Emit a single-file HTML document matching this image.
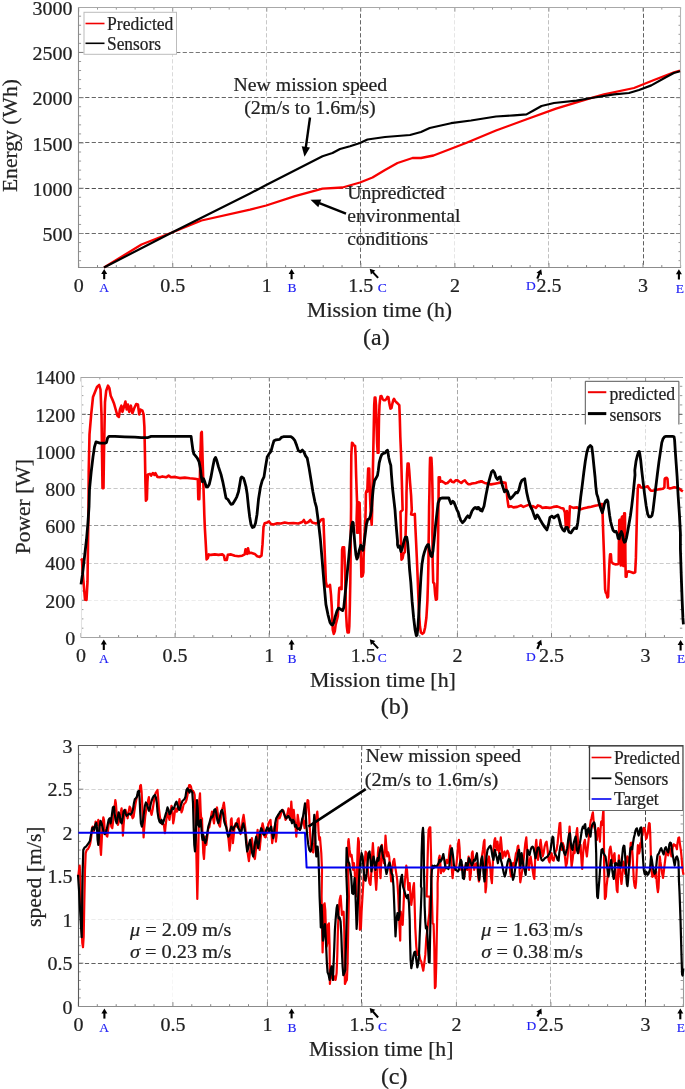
<!DOCTYPE html>
<html><head><meta charset="utf-8"><title>Energy, power and speed</title>
<style>
html,body{margin:0;padding:0;background:#fff;}
body{width:685px;height:1089px;overflow:hidden;}
svg{display:block;font-family:"Liberation Serif","DejaVu Serif",serif;}
text:not([stroke]){stroke:#222;stroke-width:0.22px;}
</style></head><body>
<svg width="685" height="1089" viewBox="0 0 685 1089">
<rect width="685" height="1089" fill="#fff"/>
<g id="chart-a">
<line x1="172.50" y1="7.20" x2="172.50" y2="267.50" stroke="#dadada" stroke-width="1" stroke-dasharray="4.2 2.3"/>
<line x1="266.50" y1="7.20" x2="266.50" y2="267.50" stroke="#c8c8c8" stroke-width="1" stroke-dasharray="4.2 2.3"/>
<line x1="360.50" y1="7.20" x2="360.50" y2="267.50" stroke="#686868" stroke-width="1" stroke-dasharray="4.2 2.3"/>
<line x1="454.50" y1="7.20" x2="454.50" y2="267.50" stroke="#e6e6e6" stroke-width="1" stroke-dasharray="4.2 2.3"/>
<line x1="548.50" y1="7.20" x2="548.50" y2="267.50" stroke="#c0c0c0" stroke-width="1" stroke-dasharray="4.2 2.3"/>
<line x1="643.50" y1="7.20" x2="643.50" y2="267.50" stroke="#606060" stroke-width="1" stroke-dasharray="4.2 2.3"/>
<line x1="78.70" y1="52.50" x2="680.90" y2="52.50" stroke="#787878" stroke-width="1" stroke-dasharray="4.2 2.3"/>
<line x1="78.70" y1="97.50" x2="680.90" y2="97.50" stroke="#646464" stroke-width="1" stroke-dasharray="4.2 2.3"/>
<line x1="78.70" y1="142.50" x2="680.90" y2="142.50" stroke="#686868" stroke-width="1" stroke-dasharray="4.2 2.3"/>
<line x1="78.70" y1="188.50" x2="680.90" y2="188.50" stroke="#505050" stroke-width="1" stroke-dasharray="4.2 2.3"/>
<line x1="78.70" y1="233.50" x2="680.90" y2="233.50" stroke="#686868" stroke-width="1" stroke-dasharray="4.2 2.3"/>
<line x1="78.70" y1="267.50" x2="78.70" y2="263.00" stroke="#858585" stroke-width="1"/>
<line x1="78.70" y1="7.20" x2="78.70" y2="11.70" stroke="#9a9a9a" stroke-width="1"/>
<line x1="97.51" y1="267.50" x2="97.51" y2="265.10" stroke="#858585" stroke-width="1"/>
<line x1="97.51" y1="7.20" x2="97.51" y2="9.60" stroke="#9a9a9a" stroke-width="1"/>
<line x1="116.32" y1="267.50" x2="116.32" y2="265.10" stroke="#858585" stroke-width="1"/>
<line x1="116.32" y1="7.20" x2="116.32" y2="9.60" stroke="#9a9a9a" stroke-width="1"/>
<line x1="135.13" y1="267.50" x2="135.13" y2="265.10" stroke="#858585" stroke-width="1"/>
<line x1="135.13" y1="7.20" x2="135.13" y2="9.60" stroke="#9a9a9a" stroke-width="1"/>
<line x1="153.94" y1="267.50" x2="153.94" y2="265.10" stroke="#858585" stroke-width="1"/>
<line x1="153.94" y1="7.20" x2="153.94" y2="9.60" stroke="#9a9a9a" stroke-width="1"/>
<line x1="172.75" y1="267.50" x2="172.75" y2="263.00" stroke="#858585" stroke-width="1"/>
<line x1="172.75" y1="7.20" x2="172.75" y2="11.70" stroke="#9a9a9a" stroke-width="1"/>
<line x1="191.56" y1="267.50" x2="191.56" y2="265.10" stroke="#858585" stroke-width="1"/>
<line x1="191.56" y1="7.20" x2="191.56" y2="9.60" stroke="#9a9a9a" stroke-width="1"/>
<line x1="210.37" y1="267.50" x2="210.37" y2="265.10" stroke="#858585" stroke-width="1"/>
<line x1="210.37" y1="7.20" x2="210.37" y2="9.60" stroke="#9a9a9a" stroke-width="1"/>
<line x1="229.18" y1="267.50" x2="229.18" y2="265.10" stroke="#858585" stroke-width="1"/>
<line x1="229.18" y1="7.20" x2="229.18" y2="9.60" stroke="#9a9a9a" stroke-width="1"/>
<line x1="247.99" y1="267.50" x2="247.99" y2="265.10" stroke="#858585" stroke-width="1"/>
<line x1="247.99" y1="7.20" x2="247.99" y2="9.60" stroke="#9a9a9a" stroke-width="1"/>
<line x1="266.80" y1="267.50" x2="266.80" y2="263.00" stroke="#858585" stroke-width="1"/>
<line x1="266.80" y1="7.20" x2="266.80" y2="11.70" stroke="#9a9a9a" stroke-width="1"/>
<line x1="285.61" y1="267.50" x2="285.61" y2="265.10" stroke="#858585" stroke-width="1"/>
<line x1="285.61" y1="7.20" x2="285.61" y2="9.60" stroke="#9a9a9a" stroke-width="1"/>
<line x1="304.42" y1="267.50" x2="304.42" y2="265.10" stroke="#858585" stroke-width="1"/>
<line x1="304.42" y1="7.20" x2="304.42" y2="9.60" stroke="#9a9a9a" stroke-width="1"/>
<line x1="323.23" y1="267.50" x2="323.23" y2="265.10" stroke="#858585" stroke-width="1"/>
<line x1="323.23" y1="7.20" x2="323.23" y2="9.60" stroke="#9a9a9a" stroke-width="1"/>
<line x1="342.04" y1="267.50" x2="342.04" y2="265.10" stroke="#858585" stroke-width="1"/>
<line x1="342.04" y1="7.20" x2="342.04" y2="9.60" stroke="#9a9a9a" stroke-width="1"/>
<line x1="360.85" y1="267.50" x2="360.85" y2="263.00" stroke="#858585" stroke-width="1"/>
<line x1="360.85" y1="7.20" x2="360.85" y2="11.70" stroke="#9a9a9a" stroke-width="1"/>
<line x1="379.66" y1="267.50" x2="379.66" y2="265.10" stroke="#858585" stroke-width="1"/>
<line x1="379.66" y1="7.20" x2="379.66" y2="9.60" stroke="#9a9a9a" stroke-width="1"/>
<line x1="398.47" y1="267.50" x2="398.47" y2="265.10" stroke="#858585" stroke-width="1"/>
<line x1="398.47" y1="7.20" x2="398.47" y2="9.60" stroke="#9a9a9a" stroke-width="1"/>
<line x1="417.28" y1="267.50" x2="417.28" y2="265.10" stroke="#858585" stroke-width="1"/>
<line x1="417.28" y1="7.20" x2="417.28" y2="9.60" stroke="#9a9a9a" stroke-width="1"/>
<line x1="436.09" y1="267.50" x2="436.09" y2="265.10" stroke="#858585" stroke-width="1"/>
<line x1="436.09" y1="7.20" x2="436.09" y2="9.60" stroke="#9a9a9a" stroke-width="1"/>
<line x1="454.90" y1="267.50" x2="454.90" y2="263.00" stroke="#858585" stroke-width="1"/>
<line x1="454.90" y1="7.20" x2="454.90" y2="11.70" stroke="#9a9a9a" stroke-width="1"/>
<line x1="473.71" y1="267.50" x2="473.71" y2="265.10" stroke="#858585" stroke-width="1"/>
<line x1="473.71" y1="7.20" x2="473.71" y2="9.60" stroke="#9a9a9a" stroke-width="1"/>
<line x1="492.52" y1="267.50" x2="492.52" y2="265.10" stroke="#858585" stroke-width="1"/>
<line x1="492.52" y1="7.20" x2="492.52" y2="9.60" stroke="#9a9a9a" stroke-width="1"/>
<line x1="511.33" y1="267.50" x2="511.33" y2="265.10" stroke="#858585" stroke-width="1"/>
<line x1="511.33" y1="7.20" x2="511.33" y2="9.60" stroke="#9a9a9a" stroke-width="1"/>
<line x1="530.14" y1="267.50" x2="530.14" y2="265.10" stroke="#858585" stroke-width="1"/>
<line x1="530.14" y1="7.20" x2="530.14" y2="9.60" stroke="#9a9a9a" stroke-width="1"/>
<line x1="548.95" y1="267.50" x2="548.95" y2="263.00" stroke="#858585" stroke-width="1"/>
<line x1="548.95" y1="7.20" x2="548.95" y2="11.70" stroke="#9a9a9a" stroke-width="1"/>
<line x1="567.76" y1="267.50" x2="567.76" y2="265.10" stroke="#858585" stroke-width="1"/>
<line x1="567.76" y1="7.20" x2="567.76" y2="9.60" stroke="#9a9a9a" stroke-width="1"/>
<line x1="586.57" y1="267.50" x2="586.57" y2="265.10" stroke="#858585" stroke-width="1"/>
<line x1="586.57" y1="7.20" x2="586.57" y2="9.60" stroke="#9a9a9a" stroke-width="1"/>
<line x1="605.38" y1="267.50" x2="605.38" y2="265.10" stroke="#858585" stroke-width="1"/>
<line x1="605.38" y1="7.20" x2="605.38" y2="9.60" stroke="#9a9a9a" stroke-width="1"/>
<line x1="624.19" y1="267.50" x2="624.19" y2="265.10" stroke="#858585" stroke-width="1"/>
<line x1="624.19" y1="7.20" x2="624.19" y2="9.60" stroke="#9a9a9a" stroke-width="1"/>
<line x1="643.00" y1="267.50" x2="643.00" y2="263.00" stroke="#858585" stroke-width="1"/>
<line x1="643.00" y1="7.20" x2="643.00" y2="11.70" stroke="#9a9a9a" stroke-width="1"/>
<line x1="661.81" y1="267.50" x2="661.81" y2="265.10" stroke="#858585" stroke-width="1"/>
<line x1="661.81" y1="7.20" x2="661.81" y2="9.60" stroke="#9a9a9a" stroke-width="1"/>
<line x1="680.62" y1="267.50" x2="680.62" y2="265.10" stroke="#858585" stroke-width="1"/>
<line x1="680.62" y1="7.20" x2="680.62" y2="9.60" stroke="#9a9a9a" stroke-width="1"/>
<line x1="78.70" y1="260.66" x2="81.10" y2="260.66" stroke="#999" stroke-width="1"/>
<line x1="680.90" y1="260.66" x2="678.50" y2="260.66" stroke="#999" stroke-width="1"/>
<line x1="78.70" y1="251.61" x2="81.10" y2="251.61" stroke="#999" stroke-width="1"/>
<line x1="680.90" y1="251.61" x2="678.50" y2="251.61" stroke="#999" stroke-width="1"/>
<line x1="78.70" y1="242.55" x2="81.10" y2="242.55" stroke="#999" stroke-width="1"/>
<line x1="680.90" y1="242.55" x2="678.50" y2="242.55" stroke="#999" stroke-width="1"/>
<line x1="78.70" y1="224.45" x2="81.10" y2="224.45" stroke="#999" stroke-width="1"/>
<line x1="680.90" y1="224.45" x2="678.50" y2="224.45" stroke="#999" stroke-width="1"/>
<line x1="78.70" y1="215.39" x2="81.10" y2="215.39" stroke="#999" stroke-width="1"/>
<line x1="680.90" y1="215.39" x2="678.50" y2="215.39" stroke="#999" stroke-width="1"/>
<line x1="78.70" y1="206.34" x2="81.10" y2="206.34" stroke="#999" stroke-width="1"/>
<line x1="680.90" y1="206.34" x2="678.50" y2="206.34" stroke="#999" stroke-width="1"/>
<line x1="78.70" y1="197.28" x2="81.10" y2="197.28" stroke="#999" stroke-width="1"/>
<line x1="680.90" y1="197.28" x2="678.50" y2="197.28" stroke="#999" stroke-width="1"/>
<line x1="78.70" y1="179.18" x2="81.10" y2="179.18" stroke="#999" stroke-width="1"/>
<line x1="680.90" y1="179.18" x2="678.50" y2="179.18" stroke="#999" stroke-width="1"/>
<line x1="78.70" y1="170.12" x2="81.10" y2="170.12" stroke="#999" stroke-width="1"/>
<line x1="680.90" y1="170.12" x2="678.50" y2="170.12" stroke="#999" stroke-width="1"/>
<line x1="78.70" y1="161.07" x2="81.10" y2="161.07" stroke="#999" stroke-width="1"/>
<line x1="680.90" y1="161.07" x2="678.50" y2="161.07" stroke="#999" stroke-width="1"/>
<line x1="78.70" y1="152.01" x2="81.10" y2="152.01" stroke="#999" stroke-width="1"/>
<line x1="680.90" y1="152.01" x2="678.50" y2="152.01" stroke="#999" stroke-width="1"/>
<line x1="78.70" y1="133.91" x2="81.10" y2="133.91" stroke="#999" stroke-width="1"/>
<line x1="680.90" y1="133.91" x2="678.50" y2="133.91" stroke="#999" stroke-width="1"/>
<line x1="78.70" y1="124.85" x2="81.10" y2="124.85" stroke="#999" stroke-width="1"/>
<line x1="680.90" y1="124.85" x2="678.50" y2="124.85" stroke="#999" stroke-width="1"/>
<line x1="78.70" y1="115.80" x2="81.10" y2="115.80" stroke="#999" stroke-width="1"/>
<line x1="680.90" y1="115.80" x2="678.50" y2="115.80" stroke="#999" stroke-width="1"/>
<line x1="78.70" y1="106.74" x2="81.10" y2="106.74" stroke="#999" stroke-width="1"/>
<line x1="680.90" y1="106.74" x2="678.50" y2="106.74" stroke="#999" stroke-width="1"/>
<line x1="78.70" y1="88.64" x2="81.10" y2="88.64" stroke="#999" stroke-width="1"/>
<line x1="680.90" y1="88.64" x2="678.50" y2="88.64" stroke="#999" stroke-width="1"/>
<line x1="78.70" y1="79.58" x2="81.10" y2="79.58" stroke="#999" stroke-width="1"/>
<line x1="680.90" y1="79.58" x2="678.50" y2="79.58" stroke="#999" stroke-width="1"/>
<line x1="78.70" y1="70.53" x2="81.10" y2="70.53" stroke="#999" stroke-width="1"/>
<line x1="680.90" y1="70.53" x2="678.50" y2="70.53" stroke="#999" stroke-width="1"/>
<line x1="78.70" y1="61.47" x2="81.10" y2="61.47" stroke="#999" stroke-width="1"/>
<line x1="680.90" y1="61.47" x2="678.50" y2="61.47" stroke="#999" stroke-width="1"/>
<line x1="78.70" y1="43.37" x2="81.10" y2="43.37" stroke="#999" stroke-width="1"/>
<line x1="680.90" y1="43.37" x2="678.50" y2="43.37" stroke="#999" stroke-width="1"/>
<line x1="78.70" y1="34.31" x2="81.10" y2="34.31" stroke="#999" stroke-width="1"/>
<line x1="680.90" y1="34.31" x2="678.50" y2="34.31" stroke="#999" stroke-width="1"/>
<line x1="78.70" y1="25.26" x2="81.10" y2="25.26" stroke="#999" stroke-width="1"/>
<line x1="680.90" y1="25.26" x2="678.50" y2="25.26" stroke="#999" stroke-width="1"/>
<line x1="78.70" y1="16.20" x2="81.10" y2="16.20" stroke="#999" stroke-width="1"/>
<line x1="680.90" y1="16.20" x2="678.50" y2="16.20" stroke="#999" stroke-width="1"/>
<line x1="78.70" y1="233.50" x2="83.70" y2="233.50" stroke="#858585" stroke-width="1"/>
<line x1="680.90" y1="233.50" x2="675.90" y2="233.50" stroke="#858585" stroke-width="1"/>
<line x1="78.70" y1="188.23" x2="83.70" y2="188.23" stroke="#858585" stroke-width="1"/>
<line x1="680.90" y1="188.23" x2="675.90" y2="188.23" stroke="#858585" stroke-width="1"/>
<line x1="78.70" y1="142.96" x2="83.70" y2="142.96" stroke="#858585" stroke-width="1"/>
<line x1="680.90" y1="142.96" x2="675.90" y2="142.96" stroke="#858585" stroke-width="1"/>
<line x1="78.70" y1="97.69" x2="83.70" y2="97.69" stroke="#858585" stroke-width="1"/>
<line x1="680.90" y1="97.69" x2="675.90" y2="97.69" stroke="#858585" stroke-width="1"/>
<line x1="78.70" y1="52.42" x2="83.70" y2="52.42" stroke="#858585" stroke-width="1"/>
<line x1="680.90" y1="52.42" x2="675.90" y2="52.42" stroke="#858585" stroke-width="1"/>
<line x1="78.50" y1="7.00" x2="78.50" y2="268.00" stroke="#8c8c8c" stroke-width="1.1"/>
<line x1="78.00" y1="7.50" x2="681.00" y2="7.50" stroke="#a8a8a8" stroke-width="1.1"/>
<line x1="680.50" y1="7.00" x2="680.50" y2="268.00" stroke="#b4b4b4" stroke-width="1.1"/>
<line x1="78.00" y1="267.50" x2="681.00" y2="267.50" stroke="#8c8c8c" stroke-width="1.2"/>
<polyline points="104.0,267.5 141.5,244.5 172.0,232.5 201.5,220.5 250.0,209.7 266.2,205.5 295.0,196.2 322.5,188.7 342.5,187.5 360.0,182.5 372.5,177.5 385.0,170.0 397.5,163.0 412.5,158.0 421.0,158.0 433.5,155.5 466.0,143.0 496.0,130.5 526.0,119.5 556.0,108.7 589.0,98.6 604.0,94.4 634.0,88.0 654.0,80.0 674.0,72.4 680.0,70.7" fill="none" stroke="#f80000" stroke-width="2.3" stroke-linejoin="round" stroke-linecap="butt" />
<polyline points="104.0,267.5 172.0,232.5 250.0,193.5 266.2,185.0 322.5,156.2 332.5,153.0 340.0,149.0 350.0,146.2 360.0,143.0 367.5,139.5 385.0,137.0 410.0,135.0 421.0,132.0 429.7,128.0 451.0,123.2 471.0,120.5 496.0,116.5 514.0,115.4 526.5,114.4 533.5,110.5 541.5,106.0 554.0,103.0 576.4,100.6 591.4,98.0 614.0,94.4 629.0,93.0 639.0,90.0 651.3,85.4 666.3,77.0 673.8,73.0 680.0,71.2" fill="none" stroke="#000" stroke-width="2.2" stroke-linejoin="round" stroke-linecap="butt" />
<rect x="84" y="12.3" width="92.5" height="42" fill="#fff" stroke="#bcbcbc" stroke-width="1"/>
<line x1="85.50" y1="23.50" x2="104.50" y2="23.50" stroke="#f00000" stroke-width="1.6"/>
<line x1="85.50" y1="43.30" x2="104.50" y2="43.30" stroke="#000" stroke-width="1.6"/>
<text x="107.0" y="30.0" font-size="18" text-anchor="start" fill="#222" textLength="66.4" lengthAdjust="spacingAndGlyphs" >Predicted</text>
<text x="107.0" y="50.0" font-size="18" text-anchor="start" fill="#222" textLength="54.0" lengthAdjust="spacingAndGlyphs" >Sensors</text>
<text x="72.5" y="241.1" font-size="19.5" text-anchor="end" fill="#222" textLength="30.0" lengthAdjust="spacingAndGlyphs" >500</text>
<text x="72.5" y="195.8" font-size="19.5" text-anchor="end" fill="#222" textLength="40.0" lengthAdjust="spacingAndGlyphs" >1000</text>
<text x="72.5" y="150.6" font-size="19.5" text-anchor="end" fill="#222" textLength="40.0" lengthAdjust="spacingAndGlyphs" >1500</text>
<text x="72.5" y="105.3" font-size="19.5" text-anchor="end" fill="#222" textLength="40.0" lengthAdjust="spacingAndGlyphs" >2000</text>
<text x="72.5" y="60.0" font-size="19.5" text-anchor="end" fill="#222" textLength="40.0" lengthAdjust="spacingAndGlyphs" >2500</text>
<text x="72.5" y="14.8" font-size="19.5" text-anchor="end" fill="#222" textLength="40.0" lengthAdjust="spacingAndGlyphs" >3000</text>
<text transform="translate(16.5,135.6) rotate(-90)" font-size="21.5" text-anchor="middle" fill="#222" textLength="113.0" lengthAdjust="spacingAndGlyphs">Energy (Wh)</text>
<text x="78.7" y="291.5" font-size="19.5" text-anchor="middle" fill="#222" textLength="10.0" lengthAdjust="spacingAndGlyphs" >0</text>
<text x="172.8" y="291.5" font-size="19.5" text-anchor="middle" fill="#222" textLength="25.0" lengthAdjust="spacingAndGlyphs" >0.5</text>
<text x="266.8" y="291.5" font-size="19.5" text-anchor="middle" fill="#222" textLength="10.0" lengthAdjust="spacingAndGlyphs" >1</text>
<text x="360.8" y="291.5" font-size="19.5" text-anchor="middle" fill="#222" textLength="25.0" lengthAdjust="spacingAndGlyphs" >1.5</text>
<text x="454.9" y="291.5" font-size="19.5" text-anchor="middle" fill="#222" textLength="10.0" lengthAdjust="spacingAndGlyphs" >2</text>
<text x="549.0" y="291.5" font-size="19.5" text-anchor="middle" fill="#222" textLength="25.0" lengthAdjust="spacingAndGlyphs" >2.5</text>
<text x="643.0" y="291.5" font-size="19.5" text-anchor="middle" fill="#222" textLength="10.0" lengthAdjust="spacingAndGlyphs" >3</text>
<text x="379.6" y="316.8" font-size="21.5" text-anchor="middle" fill="#222" textLength="145.0" lengthAdjust="spacingAndGlyphs" >Mission time (h)</text>
<text x="376.4" y="345.2" font-size="24" text-anchor="middle" fill="#222" >(a)</text>
<text x="310.4" y="90.5" font-size="19.5" text-anchor="middle" fill="#222" textLength="153.7" lengthAdjust="spacingAndGlyphs" >New mission speed</text>
<text x="310.0" y="114.0" font-size="19.5" text-anchor="middle" fill="#222" textLength="131.6" lengthAdjust="spacingAndGlyphs" >(2m/s to 1.6m/s)</text>
<line x1="310.00" y1="117.50" x2="305.82" y2="147.39" stroke="#000" stroke-width="2.4"/>
<polygon points="304.5,156.8 301.7,146.3 310.0,147.5" fill="#000"/>
<text x="347.2" y="199.0" font-size="19.5" text-anchor="start" fill="#222" textLength="97.3" lengthAdjust="spacingAndGlyphs" >Unpredicted</text>
<text x="347.2" y="222.2" font-size="19.5" text-anchor="start" fill="#222" textLength="113.2" lengthAdjust="spacingAndGlyphs" >environmental</text>
<text x="347.2" y="244.8" font-size="19.5" text-anchor="start" fill="#222" textLength="81.0" lengthAdjust="spacingAndGlyphs" >conditions</text>
<line x1="346.00" y1="213.60" x2="319.35" y2="203.24" stroke="#000" stroke-width="2.4"/>
<polygon points="310.5,199.8 321.3,199.5 318.3,207.3" fill="#000"/>
<text x="104.1" y="292.0" font-size="13.5" text-anchor="middle" fill="#2020f4" stroke="#2020f4" stroke-width="0.15">A</text>
<line x1="104.20" y1="279.20" x2="104.20" y2="273.50" stroke="#000" stroke-width="2.1"/>
<polygon points="104.2,269.0 107.2,274.0 101.2,274.0" fill="#000"/>
<text x="292.1" y="292.0" font-size="13.5" text-anchor="middle" fill="#2020f4" stroke="#2020f4" stroke-width="0.15">B</text>
<line x1="291.60" y1="279.20" x2="291.60" y2="273.50" stroke="#000" stroke-width="2.1"/>
<polygon points="291.6,269.0 294.6,274.0 288.6,274.0" fill="#000"/>
<text x="382.3" y="291.6" font-size="13.5" text-anchor="middle" fill="#2020f4" stroke="#2020f4" stroke-width="0.15">C</text>
<line x1="378.10" y1="277.90" x2="372.75" y2="272.11" stroke="#000" stroke-width="2.1"/>
<polygon points="369.7,268.8 375.3,270.4 370.9,274.5" fill="#000"/>
<text x="530.8" y="290.2" font-size="13.5" text-anchor="middle" fill="#2020f4" stroke="#2020f4" stroke-width="0.15">D</text>
<line x1="537.30" y1="278.60" x2="539.48" y2="273.36" stroke="#000" stroke-width="2.1"/>
<polygon points="541.2,269.2 542.1,275.0 536.5,272.7" fill="#000"/>
<text x="679.8" y="292.5" font-size="13.5" text-anchor="middle" fill="#2020f4" stroke="#2020f4" stroke-width="0.15">E</text>
<line x1="678.90" y1="279.50" x2="678.90" y2="273.70" stroke="#000" stroke-width="2.1"/>
<polygon points="678.9,269.2 681.9,274.2 675.9,274.2" fill="#000"/>
</g>
<g id="chart-b">
<line x1="175.50" y1="377.00" x2="175.50" y2="637.50" stroke="#c8c8c8" stroke-width="1" stroke-dasharray="4.2 2.3"/>
<line x1="269.50" y1="377.00" x2="269.50" y2="637.50" stroke="#707070" stroke-width="1" stroke-dasharray="4.2 2.3"/>
<line x1="363.50" y1="377.00" x2="363.50" y2="637.50" stroke="#cccccc" stroke-width="1" stroke-dasharray="4.2 2.3"/>
<line x1="457.50" y1="377.00" x2="457.50" y2="637.50" stroke="#a8a8a8" stroke-width="1" stroke-dasharray="4.2 2.3"/>
<line x1="551.50" y1="377.00" x2="551.50" y2="637.50" stroke="#dcdcdc" stroke-width="1" stroke-dasharray="4.2 2.3"/>
<line x1="645.50" y1="377.00" x2="645.50" y2="637.50" stroke="#dcdcdc" stroke-width="1" stroke-dasharray="4.2 2.3"/>
<line x1="81.00" y1="414.50" x2="682.30" y2="414.50" stroke="#505050" stroke-width="1" stroke-dasharray="4.2 2.3"/>
<line x1="81.00" y1="451.50" x2="682.30" y2="451.50" stroke="#505050" stroke-width="1" stroke-dasharray="4.2 2.3"/>
<line x1="81.00" y1="488.50" x2="682.30" y2="488.50" stroke="#c8c8c8" stroke-width="1" stroke-dasharray="4.2 2.3"/>
<line x1="81.00" y1="525.50" x2="682.30" y2="525.50" stroke="#989898" stroke-width="1" stroke-dasharray="4.2 2.3"/>
<line x1="81.00" y1="563.50" x2="682.30" y2="563.50" stroke="#cccccc" stroke-width="1" stroke-dasharray="4.2 2.3"/>
<line x1="81.00" y1="600.50" x2="682.30" y2="600.50" stroke="#ececec" stroke-width="1" stroke-dasharray="4.2 2.3"/>
<line x1="81.00" y1="637.50" x2="81.00" y2="633.00" stroke="#858585" stroke-width="1"/>
<line x1="81.00" y1="377.00" x2="81.00" y2="381.50" stroke="#9a9a9a" stroke-width="1"/>
<line x1="99.82" y1="637.50" x2="99.82" y2="635.10" stroke="#858585" stroke-width="1"/>
<line x1="99.82" y1="377.00" x2="99.82" y2="379.40" stroke="#9a9a9a" stroke-width="1"/>
<line x1="118.64" y1="637.50" x2="118.64" y2="635.10" stroke="#858585" stroke-width="1"/>
<line x1="118.64" y1="377.00" x2="118.64" y2="379.40" stroke="#9a9a9a" stroke-width="1"/>
<line x1="137.46" y1="637.50" x2="137.46" y2="635.10" stroke="#858585" stroke-width="1"/>
<line x1="137.46" y1="377.00" x2="137.46" y2="379.40" stroke="#9a9a9a" stroke-width="1"/>
<line x1="156.28" y1="637.50" x2="156.28" y2="635.10" stroke="#858585" stroke-width="1"/>
<line x1="156.28" y1="377.00" x2="156.28" y2="379.40" stroke="#9a9a9a" stroke-width="1"/>
<line x1="175.10" y1="637.50" x2="175.10" y2="633.00" stroke="#858585" stroke-width="1"/>
<line x1="175.10" y1="377.00" x2="175.10" y2="381.50" stroke="#9a9a9a" stroke-width="1"/>
<line x1="193.92" y1="637.50" x2="193.92" y2="635.10" stroke="#858585" stroke-width="1"/>
<line x1="193.92" y1="377.00" x2="193.92" y2="379.40" stroke="#9a9a9a" stroke-width="1"/>
<line x1="212.74" y1="637.50" x2="212.74" y2="635.10" stroke="#858585" stroke-width="1"/>
<line x1="212.74" y1="377.00" x2="212.74" y2="379.40" stroke="#9a9a9a" stroke-width="1"/>
<line x1="231.56" y1="637.50" x2="231.56" y2="635.10" stroke="#858585" stroke-width="1"/>
<line x1="231.56" y1="377.00" x2="231.56" y2="379.40" stroke="#9a9a9a" stroke-width="1"/>
<line x1="250.38" y1="637.50" x2="250.38" y2="635.10" stroke="#858585" stroke-width="1"/>
<line x1="250.38" y1="377.00" x2="250.38" y2="379.40" stroke="#9a9a9a" stroke-width="1"/>
<line x1="269.20" y1="637.50" x2="269.20" y2="633.00" stroke="#858585" stroke-width="1"/>
<line x1="269.20" y1="377.00" x2="269.20" y2="381.50" stroke="#9a9a9a" stroke-width="1"/>
<line x1="288.02" y1="637.50" x2="288.02" y2="635.10" stroke="#858585" stroke-width="1"/>
<line x1="288.02" y1="377.00" x2="288.02" y2="379.40" stroke="#9a9a9a" stroke-width="1"/>
<line x1="306.84" y1="637.50" x2="306.84" y2="635.10" stroke="#858585" stroke-width="1"/>
<line x1="306.84" y1="377.00" x2="306.84" y2="379.40" stroke="#9a9a9a" stroke-width="1"/>
<line x1="325.66" y1="637.50" x2="325.66" y2="635.10" stroke="#858585" stroke-width="1"/>
<line x1="325.66" y1="377.00" x2="325.66" y2="379.40" stroke="#9a9a9a" stroke-width="1"/>
<line x1="344.48" y1="637.50" x2="344.48" y2="635.10" stroke="#858585" stroke-width="1"/>
<line x1="344.48" y1="377.00" x2="344.48" y2="379.40" stroke="#9a9a9a" stroke-width="1"/>
<line x1="363.30" y1="637.50" x2="363.30" y2="633.00" stroke="#858585" stroke-width="1"/>
<line x1="363.30" y1="377.00" x2="363.30" y2="381.50" stroke="#9a9a9a" stroke-width="1"/>
<line x1="382.12" y1="637.50" x2="382.12" y2="635.10" stroke="#858585" stroke-width="1"/>
<line x1="382.12" y1="377.00" x2="382.12" y2="379.40" stroke="#9a9a9a" stroke-width="1"/>
<line x1="400.94" y1="637.50" x2="400.94" y2="635.10" stroke="#858585" stroke-width="1"/>
<line x1="400.94" y1="377.00" x2="400.94" y2="379.40" stroke="#9a9a9a" stroke-width="1"/>
<line x1="419.76" y1="637.50" x2="419.76" y2="635.10" stroke="#858585" stroke-width="1"/>
<line x1="419.76" y1="377.00" x2="419.76" y2="379.40" stroke="#9a9a9a" stroke-width="1"/>
<line x1="438.58" y1="637.50" x2="438.58" y2="635.10" stroke="#858585" stroke-width="1"/>
<line x1="438.58" y1="377.00" x2="438.58" y2="379.40" stroke="#9a9a9a" stroke-width="1"/>
<line x1="457.40" y1="637.50" x2="457.40" y2="633.00" stroke="#858585" stroke-width="1"/>
<line x1="457.40" y1="377.00" x2="457.40" y2="381.50" stroke="#9a9a9a" stroke-width="1"/>
<line x1="476.22" y1="637.50" x2="476.22" y2="635.10" stroke="#858585" stroke-width="1"/>
<line x1="476.22" y1="377.00" x2="476.22" y2="379.40" stroke="#9a9a9a" stroke-width="1"/>
<line x1="495.04" y1="637.50" x2="495.04" y2="635.10" stroke="#858585" stroke-width="1"/>
<line x1="495.04" y1="377.00" x2="495.04" y2="379.40" stroke="#9a9a9a" stroke-width="1"/>
<line x1="513.86" y1="637.50" x2="513.86" y2="635.10" stroke="#858585" stroke-width="1"/>
<line x1="513.86" y1="377.00" x2="513.86" y2="379.40" stroke="#9a9a9a" stroke-width="1"/>
<line x1="532.68" y1="637.50" x2="532.68" y2="635.10" stroke="#858585" stroke-width="1"/>
<line x1="532.68" y1="377.00" x2="532.68" y2="379.40" stroke="#9a9a9a" stroke-width="1"/>
<line x1="551.50" y1="637.50" x2="551.50" y2="633.00" stroke="#858585" stroke-width="1"/>
<line x1="551.50" y1="377.00" x2="551.50" y2="381.50" stroke="#9a9a9a" stroke-width="1"/>
<line x1="570.32" y1="637.50" x2="570.32" y2="635.10" stroke="#858585" stroke-width="1"/>
<line x1="570.32" y1="377.00" x2="570.32" y2="379.40" stroke="#9a9a9a" stroke-width="1"/>
<line x1="589.14" y1="637.50" x2="589.14" y2="635.10" stroke="#858585" stroke-width="1"/>
<line x1="589.14" y1="377.00" x2="589.14" y2="379.40" stroke="#9a9a9a" stroke-width="1"/>
<line x1="607.96" y1="637.50" x2="607.96" y2="635.10" stroke="#858585" stroke-width="1"/>
<line x1="607.96" y1="377.00" x2="607.96" y2="379.40" stroke="#9a9a9a" stroke-width="1"/>
<line x1="626.78" y1="637.50" x2="626.78" y2="635.10" stroke="#858585" stroke-width="1"/>
<line x1="626.78" y1="377.00" x2="626.78" y2="379.40" stroke="#9a9a9a" stroke-width="1"/>
<line x1="645.60" y1="637.50" x2="645.60" y2="633.00" stroke="#858585" stroke-width="1"/>
<line x1="645.60" y1="377.00" x2="645.60" y2="381.50" stroke="#9a9a9a" stroke-width="1"/>
<line x1="664.42" y1="637.50" x2="664.42" y2="635.10" stroke="#858585" stroke-width="1"/>
<line x1="664.42" y1="377.00" x2="664.42" y2="379.40" stroke="#9a9a9a" stroke-width="1"/>
<line x1="81.00" y1="628.20" x2="83.40" y2="628.20" stroke="#999" stroke-width="1"/>
<line x1="682.30" y1="628.20" x2="679.90" y2="628.20" stroke="#999" stroke-width="1"/>
<line x1="81.00" y1="618.89" x2="83.40" y2="618.89" stroke="#999" stroke-width="1"/>
<line x1="682.30" y1="618.89" x2="679.90" y2="618.89" stroke="#999" stroke-width="1"/>
<line x1="81.00" y1="609.59" x2="83.40" y2="609.59" stroke="#999" stroke-width="1"/>
<line x1="682.30" y1="609.59" x2="679.90" y2="609.59" stroke="#999" stroke-width="1"/>
<line x1="81.00" y1="590.98" x2="83.40" y2="590.98" stroke="#999" stroke-width="1"/>
<line x1="682.30" y1="590.98" x2="679.90" y2="590.98" stroke="#999" stroke-width="1"/>
<line x1="81.00" y1="581.68" x2="83.40" y2="581.68" stroke="#999" stroke-width="1"/>
<line x1="682.30" y1="581.68" x2="679.90" y2="581.68" stroke="#999" stroke-width="1"/>
<line x1="81.00" y1="572.38" x2="83.40" y2="572.38" stroke="#999" stroke-width="1"/>
<line x1="682.30" y1="572.38" x2="679.90" y2="572.38" stroke="#999" stroke-width="1"/>
<line x1="81.00" y1="553.77" x2="83.40" y2="553.77" stroke="#999" stroke-width="1"/>
<line x1="682.30" y1="553.77" x2="679.90" y2="553.77" stroke="#999" stroke-width="1"/>
<line x1="81.00" y1="544.46" x2="83.40" y2="544.46" stroke="#999" stroke-width="1"/>
<line x1="682.30" y1="544.46" x2="679.90" y2="544.46" stroke="#999" stroke-width="1"/>
<line x1="81.00" y1="535.16" x2="83.40" y2="535.16" stroke="#999" stroke-width="1"/>
<line x1="682.30" y1="535.16" x2="679.90" y2="535.16" stroke="#999" stroke-width="1"/>
<line x1="81.00" y1="516.55" x2="83.40" y2="516.55" stroke="#999" stroke-width="1"/>
<line x1="682.30" y1="516.55" x2="679.90" y2="516.55" stroke="#999" stroke-width="1"/>
<line x1="81.00" y1="507.25" x2="83.40" y2="507.25" stroke="#999" stroke-width="1"/>
<line x1="682.30" y1="507.25" x2="679.90" y2="507.25" stroke="#999" stroke-width="1"/>
<line x1="81.00" y1="497.95" x2="83.40" y2="497.95" stroke="#999" stroke-width="1"/>
<line x1="682.30" y1="497.95" x2="679.90" y2="497.95" stroke="#999" stroke-width="1"/>
<line x1="81.00" y1="479.34" x2="83.40" y2="479.34" stroke="#999" stroke-width="1"/>
<line x1="682.30" y1="479.34" x2="679.90" y2="479.34" stroke="#999" stroke-width="1"/>
<line x1="81.00" y1="470.04" x2="83.40" y2="470.04" stroke="#999" stroke-width="1"/>
<line x1="682.30" y1="470.04" x2="679.90" y2="470.04" stroke="#999" stroke-width="1"/>
<line x1="81.00" y1="460.73" x2="83.40" y2="460.73" stroke="#999" stroke-width="1"/>
<line x1="682.30" y1="460.73" x2="679.90" y2="460.73" stroke="#999" stroke-width="1"/>
<line x1="81.00" y1="442.12" x2="83.40" y2="442.12" stroke="#999" stroke-width="1"/>
<line x1="682.30" y1="442.12" x2="679.90" y2="442.12" stroke="#999" stroke-width="1"/>
<line x1="81.00" y1="432.82" x2="83.40" y2="432.82" stroke="#999" stroke-width="1"/>
<line x1="682.30" y1="432.82" x2="679.90" y2="432.82" stroke="#999" stroke-width="1"/>
<line x1="81.00" y1="423.52" x2="83.40" y2="423.52" stroke="#999" stroke-width="1"/>
<line x1="682.30" y1="423.52" x2="679.90" y2="423.52" stroke="#999" stroke-width="1"/>
<line x1="81.00" y1="404.91" x2="83.40" y2="404.91" stroke="#999" stroke-width="1"/>
<line x1="682.30" y1="404.91" x2="679.90" y2="404.91" stroke="#999" stroke-width="1"/>
<line x1="81.00" y1="395.61" x2="83.40" y2="395.61" stroke="#999" stroke-width="1"/>
<line x1="682.30" y1="395.61" x2="679.90" y2="395.61" stroke="#999" stroke-width="1"/>
<line x1="81.00" y1="386.30" x2="83.40" y2="386.30" stroke="#999" stroke-width="1"/>
<line x1="682.30" y1="386.30" x2="679.90" y2="386.30" stroke="#999" stroke-width="1"/>
<line x1="81.00" y1="600.29" x2="86.00" y2="600.29" stroke="#858585" stroke-width="1"/>
<line x1="682.30" y1="600.29" x2="677.30" y2="600.29" stroke="#858585" stroke-width="1"/>
<line x1="81.00" y1="563.07" x2="86.00" y2="563.07" stroke="#858585" stroke-width="1"/>
<line x1="682.30" y1="563.07" x2="677.30" y2="563.07" stroke="#858585" stroke-width="1"/>
<line x1="81.00" y1="525.86" x2="86.00" y2="525.86" stroke="#858585" stroke-width="1"/>
<line x1="682.30" y1="525.86" x2="677.30" y2="525.86" stroke="#858585" stroke-width="1"/>
<line x1="81.00" y1="488.64" x2="86.00" y2="488.64" stroke="#858585" stroke-width="1"/>
<line x1="682.30" y1="488.64" x2="677.30" y2="488.64" stroke="#858585" stroke-width="1"/>
<line x1="81.00" y1="451.43" x2="86.00" y2="451.43" stroke="#858585" stroke-width="1"/>
<line x1="682.30" y1="451.43" x2="677.30" y2="451.43" stroke="#858585" stroke-width="1"/>
<line x1="81.00" y1="414.21" x2="86.00" y2="414.21" stroke="#858585" stroke-width="1"/>
<line x1="682.30" y1="414.21" x2="677.30" y2="414.21" stroke="#858585" stroke-width="1"/>
<line x1="81.50" y1="377.00" x2="81.50" y2="638.00" stroke="#e2e2e2" stroke-width="1.1"/>
<line x1="81.00" y1="377.50" x2="683.00" y2="377.50" stroke="#a4a4a4" stroke-width="1.1"/>
<line x1="81.00" y1="637.50" x2="683.00" y2="637.50" stroke="#a4a4a4" stroke-width="1.2"/>
<polyline points="81.0,560.7 82.0,559.4 82.5,569.4 83.5,581.9 85.0,599.4 86.5,599.9 87.5,581.9 88.0,544.4 88.5,507.0 88.7,471.9 89.5,434.4 91.2,414.4 93.0,397.0 95.0,392.0 97.0,387.0 99.2,385.0 100.5,389.5 101.5,414.4 102.0,451.9 102.5,488.1 103.5,488.1 104.0,451.9 105.0,402.0 106.2,390.7 108.0,385.7 109.4,388.2 110.7,395.7 112.4,399.5 113.9,403.2 115.7,409.5 117.4,415.7 118.9,416.9 119.9,409.5 121.4,405.7 122.4,411.9 123.9,407.0 125.4,401.5 126.7,409.5 127.9,404.5 129.2,411.9 130.9,405.7 132.4,413.2 134.2,408.2 136.2,404.0 137.9,404.5 139.2,414.4 140.4,409.5 142.4,410.7 143.6,414.4 144.4,426.9 144.9,451.9 145.4,481.8 145.9,500.6 146.9,499.3 147.4,481.8 147.9,474.4 149.9,473.9 151.1,475.6 152.9,473.1 154.4,474.9 155.4,473.1 157.4,476.9 159.9,477.3 162.4,476.4 166.1,477.3 168.6,475.6 171.1,477.3 174.9,476.9 179.8,478.1 184.8,477.6 189.8,478.3 194.8,478.8 197.8,479.3 198.3,499.3 199.3,499.3 199.8,481.8 200.3,459.4 201.1,433.2 201.8,431.9 202.6,459.4 203.3,481.8 204.1,507.1 204.3,514.5 204.8,527.0 205.8,544.4 206.6,559.4 207.8,558.2 208.8,554.4 211.0,554.9 214.8,554.4 218.5,554.9 222.3,554.4 224.0,555.7 224.8,559.9 226.8,559.9 227.8,554.9 231.0,554.4 234.8,555.7 238.5,556.2 242.2,555.7 244.7,554.4 245.5,549.4 246.0,553.2 247.2,553.9 248.0,548.2 249.0,553.2 251.0,552.7 254.7,553.9 257.2,556.2 259.7,556.9 261.5,555.7 262.5,544.4 263.5,527.0 264.7,523.2 267.2,522.5 269.0,521.5 271.0,524.0 273.5,524.5 277.2,523.2 280.9,523.5 284.7,522.5 288.4,523.2 293.4,523.0 298.4,523.5 302.2,522.0 303.9,520.0 305.4,523.2 308.4,522.0 310.4,520.0 312.2,522.5 315.9,523.5 319.6,522.0 321.4,519.5 323.4,519.0 323.9,532.0 324.9,556.9 325.9,581.9 326.9,586.4 328.9,586.4 330.0,584.8 331.0,594.9 331.8,607.4 332.3,620.0 332.8,630.0 333.8,633.8 334.8,631.3 335.6,625.0 336.9,620.0 337.8,616.2 338.3,607.4 338.8,594.9 339.3,588.0 340.7,587.4 341.6,589.2 341.8,569.8 342.1,549.7 342.6,547.2 344.1,547.2 344.6,557.2 345.1,572.3 345.6,594.9 346.1,613.7 346.8,626.3 347.6,632.5 348.8,632.5 349.3,626.3 349.8,607.4 350.3,582.3 350.6,557.2 350.8,532.1 351.1,507.0 351.1,480.4 351.3,455.3 352.0,442.8 352.8,443.4 353.9,445.3 355.1,445.9 355.6,455.3 356.1,474.2 356.6,489.2 357.1,503.0 356.6,519.6 357.1,532.7 358.1,532.7 358.6,519.6 358.9,507.0 358.9,502.4 359.6,502.8 360.1,519.6 360.6,544.7 361.1,563.5 361.4,576.7 362.6,576.1 363.4,572.3 363.6,557.2 364.1,544.7 364.7,532.1 365.4,519.6 365.7,507.0 365.9,493.0 366.7,490.5 367.3,491.7 367.7,480.4 368.2,468.5 369.2,468.5 369.5,480.4 369.9,493.0 370.4,505.5 370.9,517.0 371.7,524.6 372.1,512.0 372.3,493.0 372.7,480.4 373.2,455.3 373.7,430.2 374.2,405.1 374.7,397.6 375.4,397.6 376.0,405.1 376.5,423.9 377.1,442.8 377.7,452.8 378.5,452.8 378.7,436.5 379.0,417.7 379.5,405.1 380.0,400.1 380.5,396.3 381.5,396.1 382.5,398.8 383.7,400.3 385.2,400.1 386.5,398.8 387.5,396.9 388.5,397.3 389.0,401.3 389.8,405.7 390.5,408.6 391.5,407.9 392.3,403.9 393.3,400.1 394.0,398.8 395.0,400.7 396.3,402.3 397.8,403.6 399.3,405.1 399.8,417.7 400.3,436.5 401.1,455.3 401.8,480.4 402.6,509.9 400.5,512.0 400.8,525.8 401.0,544.7 401.5,559.7 402.5,558.5 403.5,553.5 404.8,552.2 405.5,538.4 406.0,519.6 406.4,507.0 406.5,493.0 407.0,474.2 407.6,463.5 408.6,463.5 409.2,470.4 410.1,483.0 411.1,495.5 411.8,509.9 411.1,514.5 412.9,514.8 414.8,513.9 415.3,525.8 416.1,542.2 416.8,557.2 417.6,576.1 418.3,594.9 419.1,613.7 419.9,626.3 420.9,632.5 422.4,633.8 423.9,632.5 425.1,627.5 426.4,617.5 427.4,601.2 428.0,582.3 428.4,563.5 428.6,544.7 428.9,525.8 429.1,507.0 429.4,493.0 429.8,467.9 430.1,457.8 431.4,457.8 431.9,467.9 432.4,486.7 432.8,509.9 432.4,532.1 432.7,563.5 433.2,582.3 434.3,583.6 435.2,594.9 435.9,599.7 436.9,599.3 437.4,582.3 437.8,557.2 438.2,532.1 438.4,507.0 438.6,493.0 438.7,477.3 439.9,477.3 440.2,481.7 441.8,481.1 443.7,482.3 445.6,483.6 447.5,483.0 449.4,481.1 450.6,479.8 451.9,481.7 453.8,482.3 455.6,480.4 457.5,480.2 459.4,481.7 461.3,483.0 463.2,481.1 464.8,480.4 466.3,482.3 468.2,484.2 470.1,484.2 472.0,483.6 473.8,483.2 475.7,483.0 477.6,482.3 479.5,481.9 482.0,481.4 478.5,481.9 481.0,481.2 484.7,482.9 488.5,483.7 491.0,484.4 494.7,483.7 498.5,482.9 502.2,482.4 505.5,482.9 506.5,489.9 507.5,499.9 508.5,506.9 510.9,506.2 513.4,507.4 517.2,506.9 520.9,505.4 523.4,506.9 527.2,505.4 529.7,504.4 531.4,508.6 532.9,506.2 535.9,507.9 537.9,505.4 540.4,506.2 542.2,507.9 545.9,507.4 549.6,507.9 553.4,506.9 557.1,506.4 560.9,507.9 563.4,508.6 564.9,512.4 565.9,527.4 566.9,511.1 567.9,526.1 568.9,527.4 569.9,506.2 570.9,506.9 573.4,507.9 577.1,507.4 580.0,509.5 583.8,508.3 587.5,507.4 591.3,506.7 595.1,505.8 597.6,505.2 600.1,504.5 602.0,504.1 602.6,513.9 603.2,532.8 603.9,551.6 604.5,570.4 605.1,589.3 605.7,592.4 606.6,593.7 607.4,597.4 608.1,596.8 608.6,583.0 609.1,570.4 609.6,560.4 610.1,554.4 610.9,554.4 611.4,561.7 612.9,563.5 615.2,564.4 617.7,564.2 618.7,563.5 618.9,545.3 619.3,520.2 619.9,519.6 620.4,539.1 620.8,565.4 621.4,545.3 621.8,517.1 622.4,516.5 622.9,539.1 623.3,566.0 623.7,532.8 624.2,513.3 624.9,513.3 625.2,532.8 625.4,557.9 625.7,576.7 626.5,576.7 627.0,571.7 629.0,571.4 631.5,572.3 633.4,573.0 635.2,572.3 635.9,557.9 636.5,532.8 637.1,507.7 637.8,488.8 638.4,485.1 639.6,485.3 640.5,487.3 642.8,487.6 645.3,486.9 647.8,486.3 649.3,488.8 650.9,490.7 652.8,490.7 655.3,490.1 657.8,489.5 660.4,489.1 662.9,488.8 664.4,487.6 664.7,478.8 665.5,478.0 666.8,477.8 667.5,479.0 668.1,487.8 669.9,488.4 671.8,488.0 674.3,487.2 676.8,487.8 679.4,488.8 681.2,490.3 682.9,491.3" fill="none" stroke="#f80000" stroke-width="2.6" stroke-linejoin="round" stroke-linecap="butt" />
<polyline points="81.0,584.4 82.5,574.4 84.5,556.9 86.5,539.5 88.0,522.0 89.0,507.0 89.5,489.3 91.2,471.9 93.0,456.9 94.5,446.9 96.0,441.9 97.5,442.4 100.0,443.2 105.0,443.2 106.5,442.4 107.5,438.2 108.9,436.4 114.9,436.4 124.9,436.9 134.9,437.2 141.2,437.7 147.4,437.7 151.1,436.4 159.9,436.4 174.9,436.4 191.1,436.4 191.8,441.9 192.8,449.4 193.8,453.9 195.3,455.6 197.3,458.1 199.1,461.9 200.3,468.1 201.3,476.9 202.3,481.8 203.6,478.8 204.8,481.8 206.3,486.8 207.8,486.8 209.3,484.3 211.0,476.9 212.8,466.9 214.3,459.4 215.5,457.4 216.8,460.6 218.5,466.9 221.0,474.4 222.8,481.8 224.3,489.3 226.0,498.1 227.8,499.3 229.3,501.8 231.0,504.3 232.8,503.8 234.8,500.6 236.8,496.8 238.5,491.8 239.8,484.3 240.8,478.1 241.7,476.9 243.5,478.1 244.7,481.8 246.0,486.8 247.2,494.3 248.5,507.1 249.7,517.0 251.0,524.5 252.5,527.5 254.0,527.0 255.5,523.2 257.0,514.5 258.5,499.3 260.5,486.8 262.2,480.6 264.0,476.9 265.5,466.9 267.2,456.9 269.0,453.9 271.0,451.4 272.5,445.6 274.0,440.7 276.0,439.9 279.7,439.4 281.4,437.4 283.4,436.7 290.9,436.7 292.9,438.2 294.9,440.7 296.7,445.6 298.4,450.6 300.4,451.9 302.4,450.1 303.9,451.9 305.4,455.6 307.2,458.1 308.9,466.9 310.9,479.3 312.9,491.8 314.9,501.8 316.4,507.1 318.4,522.0 320.4,539.5 322.1,559.4 323.9,581.9 325.9,604.4 327.9,614.3 330.0,622.5 331.3,624.4 332.5,625.0 333.8,622.5 335.0,617.5 336.9,611.2 338.5,608.1 340.7,609.3 342.6,610.6 343.8,607.4 345.1,594.9 346.9,576.1 348.8,557.2 350.3,539.6 351.6,525.8 352.6,522.1 353.2,522.7 353.9,532.1 354.9,544.7 355.9,554.7 356.9,559.1 357.9,557.2 359.1,550.9 360.8,545.3 362.0,548.4 362.9,550.3 363.9,544.7 365.2,534.6 366.4,524.6 367.7,519.6 369.2,518.9 370.4,515.8 371.4,510.8 372.1,500.5 373.3,488.0 374.6,480.4 375.8,478.6 377.5,475.4 378.3,470.4 379.2,462.9 380.5,457.8 381.7,454.7 383.4,453.4 385.2,452.8 386.5,450.9 387.5,450.3 388.0,452.8 388.8,457.8 389.8,462.2 390.8,465.4 391.5,475.4 392.5,488.0 393.8,499.3 395.0,509.9 395.5,517.0 396.5,529.6 397.5,540.9 397.5,544.7 398.3,547.2 399.5,545.9 401.0,551.6 402.5,547.2 404.2,540.3 405.4,537.1 406.7,537.1 407.6,542.2 408.6,554.7 409.6,569.8 410.8,582.3 412.1,601.2 413.6,617.5 415.1,630.0 416.3,635.7 417.1,635.1 418.0,626.3 418.8,613.7 419.9,594.9 420.9,577.3 421.9,564.8 423.1,557.2 424.4,552.2 426.1,547.2 427.6,544.7 428.6,544.7 429.6,550.9 430.9,556.0 431.9,556.6 433.0,550.9 434.3,538.4 435.5,525.8 436.8,514.5 438.1,503.0 439.9,498.6 442.5,497.8 445.6,498.0 448.7,497.8 449.7,500.5 451.0,503.7 452.7,501.2 454.0,502.4 455.6,506.2 456.9,509.9 458.1,512.0 459.4,516.4 460.7,520.2 462.5,522.7 464.4,520.8 466.3,517.7 467.8,515.8 469.4,517.7 470.7,514.5 472.0,511.0 473.8,508.5 475.3,507.5 477.0,508.8 478.9,508.3 480.7,509.3 476.0,507.9 478.5,507.4 480.5,510.4 482.0,511.1 484.0,506.2 486.0,494.9 488.0,484.9 490.0,477.4 491.5,472.0 493.0,470.5 494.5,472.5 496.0,477.4 497.5,479.4 499.0,477.4 500.2,476.9 501.5,482.4 503.0,487.4 504.5,491.9 506.0,489.9 507.5,491.2 509.0,496.2 510.4,498.7 512.4,496.9 514.4,494.4 515.9,492.4 517.4,492.9 518.9,489.9 520.4,483.7 521.9,480.4 523.4,479.4 524.7,478.7 525.4,483.7 526.7,492.4 528.4,499.9 530.4,506.2 532.2,509.9 533.9,514.9 535.4,518.6 537.2,514.9 538.9,517.4 540.9,521.1 542.9,524.4 544.9,527.4 546.9,529.9 548.4,524.9 549.9,517.4 551.9,516.1 553.9,517.9 555.9,516.1 557.9,514.9 559.4,519.9 560.9,526.1 562.9,529.9 564.4,531.1 565.9,527.4 567.4,527.4 568.9,531.9 570.9,532.9 572.9,529.9 574.6,527.9 576.6,528.6 577.8,522.4 579.3,509.9 580.8,496.2 582.3,484.9 583.8,472.5 585.3,461.2 586.8,452.5 588.3,447.5 590.3,445.5 591.8,447.0 592.8,455.0 593.8,465.0 595.1,477.5 595.8,486.3 596.7,493.9 597.8,497.0 598.8,501.4 600.1,506.4 601.3,510.2 602.3,512.7 603.4,508.9 604.4,503.9 605.7,500.8 607.0,499.9 607.9,501.4 608.6,507.7 609.6,515.2 610.6,521.5 611.9,526.5 613.1,530.3 614.5,531.8 616.2,531.5 617.2,534.0 618.2,538.4 619.2,538.8 620.2,534.0 621.4,531.5 622.4,534.0 623.4,539.7 624.4,542.2 625.4,541.6 626.5,537.8 627.7,531.5 629.2,522.7 630.5,515.2 631.7,506.4 633.0,495.1 634.0,485.1 635.0,475.0 634.8,470.2 636.0,461.4 637.3,455.8 638.5,452.0 639.2,451.4 639.8,453.9 640.7,460.2 641.7,470.2 642.9,480.3 644.4,492.8 646.1,505.4 647.7,514.2 649.0,516.9 650.5,516.9 652.0,515.4 653.0,510.4 654.2,500.4 655.7,487.8 657.4,474.0 659.0,461.4 660.5,451.4 661.8,442.6 663.0,438.8 664.5,436.9 666.2,436.3 669.3,436.3 672.4,436.3 674.1,436.9 674.6,440.1 675.3,451.4 676.2,463.9 677.1,476.5 678.1,495.3 679.4,514.2 680.4,533.0 680.4,548.8 681.2,573.9 682.1,599.1 682.9,617.9 683.4,624.4" fill="none" stroke="#000" stroke-width="2.8" stroke-linejoin="round" stroke-linecap="butt" />
<rect x="585.3" y="381.3" width="93.6" height="43.5" fill="#fff" stroke="none"/>
<polyline points="585.3,424.5 585.3,381.3 678.9,381.3 678.9,424.5" fill="none" stroke="#555" stroke-width="1"/>
<line x1="587.90" y1="392.20" x2="606.30" y2="392.20" stroke="#f00000" stroke-width="2"/>
<line x1="587.90" y1="413.60" x2="606.30" y2="413.60" stroke="#000" stroke-width="3"/>
<text x="609.4" y="399.6" font-size="19" text-anchor="start" fill="#222" textLength="65.8" lengthAdjust="spacingAndGlyphs" >predicted</text>
<text x="609.4" y="420.6" font-size="19" text-anchor="start" fill="#222" textLength="52.1" lengthAdjust="spacingAndGlyphs" >sensors</text>
<text x="75.3" y="644.8" font-size="19.5" text-anchor="end" fill="#222" textLength="10.0" lengthAdjust="spacingAndGlyphs" >0</text>
<text x="75.3" y="607.6" font-size="19.5" text-anchor="end" fill="#222" textLength="30.0" lengthAdjust="spacingAndGlyphs" >200</text>
<text x="75.3" y="570.4" font-size="19.5" text-anchor="end" fill="#222" textLength="30.0" lengthAdjust="spacingAndGlyphs" >400</text>
<text x="75.3" y="533.2" font-size="19.5" text-anchor="end" fill="#222" textLength="30.0" lengthAdjust="spacingAndGlyphs" >600</text>
<text x="75.3" y="495.9" font-size="19.5" text-anchor="end" fill="#222" textLength="30.0" lengthAdjust="spacingAndGlyphs" >800</text>
<text x="75.3" y="458.7" font-size="19.5" text-anchor="end" fill="#222" textLength="40.0" lengthAdjust="spacingAndGlyphs" >1000</text>
<text x="75.3" y="421.5" font-size="19.5" text-anchor="end" fill="#222" textLength="40.0" lengthAdjust="spacingAndGlyphs" >1200</text>
<text x="75.3" y="384.3" font-size="19.5" text-anchor="end" fill="#222" textLength="40.0" lengthAdjust="spacingAndGlyphs" >1400</text>
<text transform="translate(29.5,506.7) rotate(-90)" font-size="21.5" text-anchor="middle" fill="#222" textLength="95.0" lengthAdjust="spacingAndGlyphs">Power [W]</text>
<text x="81.0" y="661.8" font-size="19.5" text-anchor="middle" fill="#222" textLength="10.0" lengthAdjust="spacingAndGlyphs" >0</text>
<text x="175.1" y="661.8" font-size="19.5" text-anchor="middle" fill="#222" textLength="25.0" lengthAdjust="spacingAndGlyphs" >0.5</text>
<text x="269.2" y="661.8" font-size="19.5" text-anchor="middle" fill="#222" textLength="10.0" lengthAdjust="spacingAndGlyphs" >1</text>
<text x="363.3" y="661.8" font-size="19.5" text-anchor="middle" fill="#222" textLength="25.0" lengthAdjust="spacingAndGlyphs" >1.5</text>
<text x="457.4" y="661.8" font-size="19.5" text-anchor="middle" fill="#222" textLength="10.0" lengthAdjust="spacingAndGlyphs" >2</text>
<text x="551.5" y="661.8" font-size="19.5" text-anchor="middle" fill="#222" textLength="25.0" lengthAdjust="spacingAndGlyphs" >2.5</text>
<text x="645.6" y="661.8" font-size="19.5" text-anchor="middle" fill="#222" textLength="10.0" lengthAdjust="spacingAndGlyphs" >3</text>
<text x="382.9" y="687.0" font-size="21.5" text-anchor="middle" fill="#222" textLength="146.0" lengthAdjust="spacingAndGlyphs" >Mission time [h]</text>
<text x="394.8" y="714.3" font-size="24" text-anchor="middle" fill="#222" >(b)</text>
<text x="103.8" y="662.5" font-size="13.5" text-anchor="middle" fill="#2020f4" stroke="#2020f4" stroke-width="0.15">A</text>
<line x1="103.80" y1="650.00" x2="103.80" y2="644.00" stroke="#000" stroke-width="2.1"/>
<polygon points="103.8,639.5 106.8,644.5 100.8,644.5" fill="#000"/>
<text x="292.1" y="662.5" font-size="13.5" text-anchor="middle" fill="#2020f4" stroke="#2020f4" stroke-width="0.15">B</text>
<line x1="291.60" y1="650.00" x2="291.60" y2="644.00" stroke="#000" stroke-width="2.1"/>
<polygon points="291.6,639.5 294.6,644.5 288.6,644.5" fill="#000"/>
<text x="382.3" y="662.1" font-size="13.5" text-anchor="middle" fill="#2020f4" stroke="#2020f4" stroke-width="0.15">C</text>
<line x1="378.10" y1="648.40" x2="372.75" y2="642.61" stroke="#000" stroke-width="2.1"/>
<polygon points="369.7,639.3 375.3,640.9 370.9,645.0" fill="#000"/>
<text x="530.8" y="660.7" font-size="13.5" text-anchor="middle" fill="#2020f4" stroke="#2020f4" stroke-width="0.15">D</text>
<line x1="537.30" y1="649.00" x2="539.46" y2="643.85" stroke="#000" stroke-width="2.1"/>
<polygon points="541.2,639.7 542.0,645.5 536.5,643.2" fill="#000"/>
<text x="681.0" y="663.0" font-size="13.5" text-anchor="middle" fill="#2020f4" stroke="#2020f4" stroke-width="0.15">E</text>
<line x1="680.60" y1="650.50" x2="680.60" y2="644.50" stroke="#000" stroke-width="2.1"/>
<polygon points="680.6,640.0 683.6,645.0 677.6,645.0" fill="#000"/>
</g>
<g id="chart-c">
<line x1="172.50" y1="745.70" x2="172.50" y2="1006.60" stroke="#f6f6f6" stroke-width="1" stroke-dasharray="4.2 2.3"/>
<line x1="267.50" y1="745.70" x2="267.50" y2="1006.60" stroke="#aaaaaa" stroke-width="1" stroke-dasharray="4.2 2.3"/>
<line x1="361.50" y1="745.70" x2="361.50" y2="1006.60" stroke="#606060" stroke-width="1" stroke-dasharray="4.2 2.3"/>
<line x1="456.50" y1="745.70" x2="456.50" y2="1006.60" stroke="#d4d4d4" stroke-width="1" stroke-dasharray="4.2 2.3"/>
<line x1="550.50" y1="745.70" x2="550.50" y2="1006.60" stroke="#b4b4b4" stroke-width="1" stroke-dasharray="4.2 2.3"/>
<line x1="645.50" y1="745.70" x2="645.50" y2="1006.60" stroke="#444" stroke-width="1" stroke-dasharray="4.2 2.3"/>
<line x1="78.40" y1="789.50" x2="683.00" y2="789.50" stroke="#d4d4d4" stroke-width="1" stroke-dasharray="4.2 2.3"/>
<line x1="78.40" y1="832.50" x2="683.00" y2="832.50" stroke="#a0a0a0" stroke-width="1" stroke-dasharray="4.2 2.3"/>
<line x1="78.40" y1="876.50" x2="683.00" y2="876.50" stroke="#6a6a6a" stroke-width="1" stroke-dasharray="4.2 2.3"/>
<line x1="78.40" y1="919.50" x2="683.00" y2="919.50" stroke="#ececec" stroke-width="1" stroke-dasharray="4.2 2.3"/>
<line x1="78.40" y1="963.50" x2="683.00" y2="963.50" stroke="#606060" stroke-width="1" stroke-dasharray="4.2 2.3"/>
<line x1="78.40" y1="1006.60" x2="78.40" y2="1002.10" stroke="#858585" stroke-width="1"/>
<line x1="78.40" y1="745.70" x2="78.40" y2="750.20" stroke="#9a9a9a" stroke-width="1"/>
<line x1="97.30" y1="1006.60" x2="97.30" y2="1004.20" stroke="#858585" stroke-width="1"/>
<line x1="97.30" y1="745.70" x2="97.30" y2="748.10" stroke="#9a9a9a" stroke-width="1"/>
<line x1="116.20" y1="1006.60" x2="116.20" y2="1004.20" stroke="#858585" stroke-width="1"/>
<line x1="116.20" y1="745.70" x2="116.20" y2="748.10" stroke="#9a9a9a" stroke-width="1"/>
<line x1="135.10" y1="1006.60" x2="135.10" y2="1004.20" stroke="#858585" stroke-width="1"/>
<line x1="135.10" y1="745.70" x2="135.10" y2="748.10" stroke="#9a9a9a" stroke-width="1"/>
<line x1="154.00" y1="1006.60" x2="154.00" y2="1004.20" stroke="#858585" stroke-width="1"/>
<line x1="154.00" y1="745.70" x2="154.00" y2="748.10" stroke="#9a9a9a" stroke-width="1"/>
<line x1="172.90" y1="1006.60" x2="172.90" y2="1002.10" stroke="#858585" stroke-width="1"/>
<line x1="172.90" y1="745.70" x2="172.90" y2="750.20" stroke="#9a9a9a" stroke-width="1"/>
<line x1="191.80" y1="1006.60" x2="191.80" y2="1004.20" stroke="#858585" stroke-width="1"/>
<line x1="191.80" y1="745.70" x2="191.80" y2="748.10" stroke="#9a9a9a" stroke-width="1"/>
<line x1="210.70" y1="1006.60" x2="210.70" y2="1004.20" stroke="#858585" stroke-width="1"/>
<line x1="210.70" y1="745.70" x2="210.70" y2="748.10" stroke="#9a9a9a" stroke-width="1"/>
<line x1="229.60" y1="1006.60" x2="229.60" y2="1004.20" stroke="#858585" stroke-width="1"/>
<line x1="229.60" y1="745.70" x2="229.60" y2="748.10" stroke="#9a9a9a" stroke-width="1"/>
<line x1="248.50" y1="1006.60" x2="248.50" y2="1004.20" stroke="#858585" stroke-width="1"/>
<line x1="248.50" y1="745.70" x2="248.50" y2="748.10" stroke="#9a9a9a" stroke-width="1"/>
<line x1="267.40" y1="1006.60" x2="267.40" y2="1002.10" stroke="#858585" stroke-width="1"/>
<line x1="267.40" y1="745.70" x2="267.40" y2="750.20" stroke="#9a9a9a" stroke-width="1"/>
<line x1="286.30" y1="1006.60" x2="286.30" y2="1004.20" stroke="#858585" stroke-width="1"/>
<line x1="286.30" y1="745.70" x2="286.30" y2="748.10" stroke="#9a9a9a" stroke-width="1"/>
<line x1="305.20" y1="1006.60" x2="305.20" y2="1004.20" stroke="#858585" stroke-width="1"/>
<line x1="305.20" y1="745.70" x2="305.20" y2="748.10" stroke="#9a9a9a" stroke-width="1"/>
<line x1="324.10" y1="1006.60" x2="324.10" y2="1004.20" stroke="#858585" stroke-width="1"/>
<line x1="324.10" y1="745.70" x2="324.10" y2="748.10" stroke="#9a9a9a" stroke-width="1"/>
<line x1="343.00" y1="1006.60" x2="343.00" y2="1004.20" stroke="#858585" stroke-width="1"/>
<line x1="343.00" y1="745.70" x2="343.00" y2="748.10" stroke="#9a9a9a" stroke-width="1"/>
<line x1="361.90" y1="1006.60" x2="361.90" y2="1002.10" stroke="#858585" stroke-width="1"/>
<line x1="361.90" y1="745.70" x2="361.90" y2="750.20" stroke="#9a9a9a" stroke-width="1"/>
<line x1="380.80" y1="1006.60" x2="380.80" y2="1004.20" stroke="#858585" stroke-width="1"/>
<line x1="380.80" y1="745.70" x2="380.80" y2="748.10" stroke="#9a9a9a" stroke-width="1"/>
<line x1="399.70" y1="1006.60" x2="399.70" y2="1004.20" stroke="#858585" stroke-width="1"/>
<line x1="399.70" y1="745.70" x2="399.70" y2="748.10" stroke="#9a9a9a" stroke-width="1"/>
<line x1="418.60" y1="1006.60" x2="418.60" y2="1004.20" stroke="#858585" stroke-width="1"/>
<line x1="418.60" y1="745.70" x2="418.60" y2="748.10" stroke="#9a9a9a" stroke-width="1"/>
<line x1="437.50" y1="1006.60" x2="437.50" y2="1004.20" stroke="#858585" stroke-width="1"/>
<line x1="437.50" y1="745.70" x2="437.50" y2="748.10" stroke="#9a9a9a" stroke-width="1"/>
<line x1="456.40" y1="1006.60" x2="456.40" y2="1002.10" stroke="#858585" stroke-width="1"/>
<line x1="456.40" y1="745.70" x2="456.40" y2="750.20" stroke="#9a9a9a" stroke-width="1"/>
<line x1="475.30" y1="1006.60" x2="475.30" y2="1004.20" stroke="#858585" stroke-width="1"/>
<line x1="475.30" y1="745.70" x2="475.30" y2="748.10" stroke="#9a9a9a" stroke-width="1"/>
<line x1="494.20" y1="1006.60" x2="494.20" y2="1004.20" stroke="#858585" stroke-width="1"/>
<line x1="494.20" y1="745.70" x2="494.20" y2="748.10" stroke="#9a9a9a" stroke-width="1"/>
<line x1="513.10" y1="1006.60" x2="513.10" y2="1004.20" stroke="#858585" stroke-width="1"/>
<line x1="513.10" y1="745.70" x2="513.10" y2="748.10" stroke="#9a9a9a" stroke-width="1"/>
<line x1="532.00" y1="1006.60" x2="532.00" y2="1004.20" stroke="#858585" stroke-width="1"/>
<line x1="532.00" y1="745.70" x2="532.00" y2="748.10" stroke="#9a9a9a" stroke-width="1"/>
<line x1="550.90" y1="1006.60" x2="550.90" y2="1002.10" stroke="#858585" stroke-width="1"/>
<line x1="550.90" y1="745.70" x2="550.90" y2="750.20" stroke="#9a9a9a" stroke-width="1"/>
<line x1="569.80" y1="1006.60" x2="569.80" y2="1004.20" stroke="#858585" stroke-width="1"/>
<line x1="569.80" y1="745.70" x2="569.80" y2="748.10" stroke="#9a9a9a" stroke-width="1"/>
<line x1="588.70" y1="1006.60" x2="588.70" y2="1004.20" stroke="#858585" stroke-width="1"/>
<line x1="588.70" y1="745.70" x2="588.70" y2="748.10" stroke="#9a9a9a" stroke-width="1"/>
<line x1="607.60" y1="1006.60" x2="607.60" y2="1004.20" stroke="#858585" stroke-width="1"/>
<line x1="607.60" y1="745.70" x2="607.60" y2="748.10" stroke="#9a9a9a" stroke-width="1"/>
<line x1="626.50" y1="1006.60" x2="626.50" y2="1004.20" stroke="#858585" stroke-width="1"/>
<line x1="626.50" y1="745.70" x2="626.50" y2="748.10" stroke="#9a9a9a" stroke-width="1"/>
<line x1="645.40" y1="1006.60" x2="645.40" y2="1002.10" stroke="#858585" stroke-width="1"/>
<line x1="645.40" y1="745.70" x2="645.40" y2="750.20" stroke="#9a9a9a" stroke-width="1"/>
<line x1="664.30" y1="1006.60" x2="664.30" y2="1004.20" stroke="#858585" stroke-width="1"/>
<line x1="664.30" y1="745.70" x2="664.30" y2="748.10" stroke="#9a9a9a" stroke-width="1"/>
<line x1="683.20" y1="1006.60" x2="683.20" y2="1004.20" stroke="#858585" stroke-width="1"/>
<line x1="683.20" y1="745.70" x2="683.20" y2="748.10" stroke="#9a9a9a" stroke-width="1"/>
<line x1="78.40" y1="997.90" x2="80.80" y2="997.90" stroke="#999" stroke-width="1"/>
<line x1="683.00" y1="997.90" x2="680.60" y2="997.90" stroke="#999" stroke-width="1"/>
<line x1="78.40" y1="989.21" x2="80.80" y2="989.21" stroke="#999" stroke-width="1"/>
<line x1="683.00" y1="989.21" x2="680.60" y2="989.21" stroke="#999" stroke-width="1"/>
<line x1="78.40" y1="980.51" x2="80.80" y2="980.51" stroke="#999" stroke-width="1"/>
<line x1="683.00" y1="980.51" x2="680.60" y2="980.51" stroke="#999" stroke-width="1"/>
<line x1="78.40" y1="971.81" x2="80.80" y2="971.81" stroke="#999" stroke-width="1"/>
<line x1="683.00" y1="971.81" x2="680.60" y2="971.81" stroke="#999" stroke-width="1"/>
<line x1="78.40" y1="954.42" x2="80.80" y2="954.42" stroke="#999" stroke-width="1"/>
<line x1="683.00" y1="954.42" x2="680.60" y2="954.42" stroke="#999" stroke-width="1"/>
<line x1="78.40" y1="945.72" x2="80.80" y2="945.72" stroke="#999" stroke-width="1"/>
<line x1="683.00" y1="945.72" x2="680.60" y2="945.72" stroke="#999" stroke-width="1"/>
<line x1="78.40" y1="937.03" x2="80.80" y2="937.03" stroke="#999" stroke-width="1"/>
<line x1="683.00" y1="937.03" x2="680.60" y2="937.03" stroke="#999" stroke-width="1"/>
<line x1="78.40" y1="928.33" x2="80.80" y2="928.33" stroke="#999" stroke-width="1"/>
<line x1="683.00" y1="928.33" x2="680.60" y2="928.33" stroke="#999" stroke-width="1"/>
<line x1="78.40" y1="910.94" x2="80.80" y2="910.94" stroke="#999" stroke-width="1"/>
<line x1="683.00" y1="910.94" x2="680.60" y2="910.94" stroke="#999" stroke-width="1"/>
<line x1="78.40" y1="902.24" x2="80.80" y2="902.24" stroke="#999" stroke-width="1"/>
<line x1="683.00" y1="902.24" x2="680.60" y2="902.24" stroke="#999" stroke-width="1"/>
<line x1="78.40" y1="893.54" x2="80.80" y2="893.54" stroke="#999" stroke-width="1"/>
<line x1="683.00" y1="893.54" x2="680.60" y2="893.54" stroke="#999" stroke-width="1"/>
<line x1="78.40" y1="884.85" x2="80.80" y2="884.85" stroke="#999" stroke-width="1"/>
<line x1="683.00" y1="884.85" x2="680.60" y2="884.85" stroke="#999" stroke-width="1"/>
<line x1="78.40" y1="867.45" x2="80.80" y2="867.45" stroke="#999" stroke-width="1"/>
<line x1="683.00" y1="867.45" x2="680.60" y2="867.45" stroke="#999" stroke-width="1"/>
<line x1="78.40" y1="858.76" x2="80.80" y2="858.76" stroke="#999" stroke-width="1"/>
<line x1="683.00" y1="858.76" x2="680.60" y2="858.76" stroke="#999" stroke-width="1"/>
<line x1="78.40" y1="850.06" x2="80.80" y2="850.06" stroke="#999" stroke-width="1"/>
<line x1="683.00" y1="850.06" x2="680.60" y2="850.06" stroke="#999" stroke-width="1"/>
<line x1="78.40" y1="841.36" x2="80.80" y2="841.36" stroke="#999" stroke-width="1"/>
<line x1="683.00" y1="841.36" x2="680.60" y2="841.36" stroke="#999" stroke-width="1"/>
<line x1="78.40" y1="823.97" x2="80.80" y2="823.97" stroke="#999" stroke-width="1"/>
<line x1="683.00" y1="823.97" x2="680.60" y2="823.97" stroke="#999" stroke-width="1"/>
<line x1="78.40" y1="815.27" x2="80.80" y2="815.27" stroke="#999" stroke-width="1"/>
<line x1="683.00" y1="815.27" x2="680.60" y2="815.27" stroke="#999" stroke-width="1"/>
<line x1="78.40" y1="806.58" x2="80.80" y2="806.58" stroke="#999" stroke-width="1"/>
<line x1="683.00" y1="806.58" x2="680.60" y2="806.58" stroke="#999" stroke-width="1"/>
<line x1="78.40" y1="797.88" x2="80.80" y2="797.88" stroke="#999" stroke-width="1"/>
<line x1="683.00" y1="797.88" x2="680.60" y2="797.88" stroke="#999" stroke-width="1"/>
<line x1="78.40" y1="780.49" x2="80.80" y2="780.49" stroke="#999" stroke-width="1"/>
<line x1="683.00" y1="780.49" x2="680.60" y2="780.49" stroke="#999" stroke-width="1"/>
<line x1="78.40" y1="771.79" x2="80.80" y2="771.79" stroke="#999" stroke-width="1"/>
<line x1="683.00" y1="771.79" x2="680.60" y2="771.79" stroke="#999" stroke-width="1"/>
<line x1="78.40" y1="763.09" x2="80.80" y2="763.09" stroke="#999" stroke-width="1"/>
<line x1="683.00" y1="763.09" x2="680.60" y2="763.09" stroke="#999" stroke-width="1"/>
<line x1="78.40" y1="754.40" x2="80.80" y2="754.40" stroke="#999" stroke-width="1"/>
<line x1="683.00" y1="754.40" x2="680.60" y2="754.40" stroke="#999" stroke-width="1"/>
<line x1="78.40" y1="963.12" x2="83.40" y2="963.12" stroke="#858585" stroke-width="1"/>
<line x1="683.00" y1="963.12" x2="678.00" y2="963.12" stroke="#858585" stroke-width="1"/>
<line x1="78.40" y1="919.63" x2="83.40" y2="919.63" stroke="#858585" stroke-width="1"/>
<line x1="683.00" y1="919.63" x2="678.00" y2="919.63" stroke="#858585" stroke-width="1"/>
<line x1="78.40" y1="876.15" x2="83.40" y2="876.15" stroke="#858585" stroke-width="1"/>
<line x1="683.00" y1="876.15" x2="678.00" y2="876.15" stroke="#858585" stroke-width="1"/>
<line x1="78.40" y1="832.67" x2="83.40" y2="832.67" stroke="#858585" stroke-width="1"/>
<line x1="683.00" y1="832.67" x2="678.00" y2="832.67" stroke="#858585" stroke-width="1"/>
<line x1="78.40" y1="789.18" x2="83.40" y2="789.18" stroke="#858585" stroke-width="1"/>
<line x1="683.00" y1="789.18" x2="678.00" y2="789.18" stroke="#858585" stroke-width="1"/>
<line x1="78.50" y1="745.00" x2="78.50" y2="1007.00" stroke="#5a5a5a" stroke-width="1.1"/>
<line x1="78.00" y1="745.50" x2="684.00" y2="745.50" stroke="#5a5a5a" stroke-width="1.1"/>
<line x1="683.50" y1="745.00" x2="683.50" y2="1007.00" stroke="#9a9a9a" stroke-width="1.1"/>
<line x1="78.00" y1="1006.50" x2="684.00" y2="1006.50" stroke="#8c8c8c" stroke-width="1.2"/>
<polyline points="78.3,876.5 79.0,869.9 79.7,865.7 80.3,878.2 81.0,903.1 81.7,928.1 82.3,943.1 83.0,947.2 83.7,936.4 84.3,903.1 85.0,869.9 85.7,853.2 86.7,849.9 88.0,849.0 89.3,846.6 90.3,843.2 91.3,836.6 92.0,828.2 92.6,826.6 93.6,831.6 94.6,828.2 95.6,821.6 96.6,823.3 97.3,824.9 98.3,819.9 99.0,821.6 99.6,833.2 100.3,846.6 101.0,854.9 101.6,843.2 102.3,828.2 103.3,817.4 104.0,819.9 104.6,828.2 105.6,833.2 106.6,835.7 107.3,836.6 108.3,828.2 109.3,819.9 110.3,818.3 111.3,826.6 112.3,828.2 113.3,819.9 114.3,809.9 115.3,800.0 115.9,803.3 116.9,816.6 117.9,824.9 118.9,821.6 119.9,814.9 120.9,811.6 121.6,808.3 122.3,816.6 122.9,835.7 123.6,824.9 124.6,813.3 125.6,809.9 126.6,814.1 127.6,818.3 128.6,811.6 129.6,806.6 130.6,808.3 131.6,814.9 132.6,818.3 133.6,816.6 134.6,809.9 135.6,803.3 136.6,798.3 137.6,795.0 138.6,793.3 139.6,791.6 140.2,785.8 140.9,785.0 141.6,791.6 142.2,803.3 142.9,819.9 143.6,837.4 144.2,828.2 145.2,816.6 146.2,809.9 147.2,806.6 148.2,800.0 148.9,797.0 149.6,803.3 150.6,811.6 151.6,814.9 152.6,809.9 153.6,803.3 154.5,797.5 155.5,793.3 156.5,791.6 157.5,790.0 158.2,798.3 158.9,808.3 159.9,816.6 160.9,821.6 161.9,824.1 162.9,823.3 163.9,824.9 164.9,833.2 165.5,826.6 166.5,818.3 167.5,813.3 168.5,816.6 169.5,819.9 170.5,811.6 171.5,805.8 172.5,813.3 173.2,823.3 173.9,819.9 174.9,811.6 175.9,808.3 176.8,811.6 177.8,809.9 178.8,803.3 179.5,799.1 180.5,806.6 181.5,812.4 182.5,809.9 183.5,804.9 184.5,803.3 185.5,802.5 186.5,800.0 187.5,795.0 188.5,788.3 189.2,785.0 189.8,786.6 190.0,785.0 191.0,786.6 192.0,791.6 193.0,790.8 194.0,792.5 194.7,795.0 195.3,811.6 196.0,836.6 196.7,869.9 197.3,899.0 198.0,869.9 198.7,828.2 199.3,800.0 200.0,793.3 200.7,811.6 201.3,819.9 202.0,818.3 202.6,836.6 203.3,853.2 204.0,859.0 204.6,848.2 205.3,836.6 206.3,844.9 207.3,836.6 208.3,828.2 209.3,827.4 210.3,821.6 211.3,814.9 212.0,811.6 213.0,818.3 214.0,823.3 215.0,814.9 216.0,809.9 217.0,807.4 218.0,814.9 219.0,824.9 220.0,826.6 221.0,816.6 222.0,809.9 223.0,806.6 223.9,802.5 224.6,808.3 225.6,819.9 226.6,828.2 227.6,831.6 228.6,839.9 229.6,850.7 230.3,844.9 230.9,819.9 231.6,818.3 232.3,831.6 232.9,843.2 233.6,836.6 234.6,826.6 235.6,823.3 236.6,826.6 237.6,819.9 238.6,818.3 239.6,826.6 240.6,834.1 241.6,829.9 242.6,819.9 243.6,814.9 244.3,819.9 245.3,828.2 246.2,836.6 247.2,849.9 248.2,856.5 248.9,861.2 249.9,853.2 250.9,844.9 251.9,838.2 252.9,846.6 253.9,856.5 254.9,859.0 255.9,849.9 256.9,836.6 257.6,829.9 258.6,839.9 259.6,849.9 260.6,839.9 261.6,828.2 262.6,823.3 263.6,828.2 264.6,836.6 265.6,837.4 266.6,833.2 267.6,828.2 268.5,823.3 269.5,821.6 270.5,819.9 271.5,833.2 272.2,843.2 273.2,836.6 274.2,828.2 275.2,824.9 275.9,841.6 276.5,836.6 277.5,819.9 278.5,814.9 279.5,818.3 280.5,815.8 281.5,811.6 282.5,809.9 283.5,810.8 284.5,814.9 285.5,819.9 286.5,818.3 287.5,813.3 288.5,808.3 289.5,811.6 290.2,819.9 290.7,813.3 291.3,801.6 292.0,811.6 292.7,818.3 293.7,809.9 294.7,819.9 295.7,828.2 296.3,836.6 297.0,826.6 297.7,814.9 298.7,821.6 299.7,829.9 300.7,828.2 301.6,823.3 302.6,818.3 303.6,821.6 304.6,828.2 305.6,819.9 306.6,806.6 307.6,800.0 308.3,800.8 309.0,811.6 309.6,824.9 310.3,836.6 311.3,848.2 312.3,851.5 313.3,852.4 314.3,843.2 315.3,828.2 316.3,816.6 317.3,811.6 318.0,819.9 318.6,833.2 319.3,839.9 320.0,837.4 320.6,844.9 321.3,853.2 322.0,869.9 321.6,896.6 322.1,929.9 322.6,952.4 323.3,929.9 323.9,905.0 324.6,903.3 325.3,910.0 325.9,929.9 326.6,946.6 327.3,943.2 327.9,924.9 328.9,923.3 329.6,946.6 329.9,984.0 330.9,973.2 331.6,966.5 332.6,978.2 333.6,979.9 334.6,976.5 335.6,979.9 336.6,973.2 337.3,954.9 337.9,929.9 338.6,913.3 339.6,900.0 340.6,895.8 341.3,905.0 341.9,914.9 342.6,913.3 343.6,911.6 344.3,929.9 344.6,963.2 344.9,984.0 345.9,981.5 346.9,979.9 347.6,963.2 348.2,929.9 348.9,896.6 348.1,869.9 348.2,841.6 348.6,839.1 349.6,849.9 350.6,856.5 351.6,854.9 352.6,863.2 353.2,869.9 353.9,863.2 354.6,869.9 355.6,886.5 356.2,896.5 356.9,876.5 357.6,849.9 358.2,838.2 358.9,841.6 359.2,863.2 359.6,903.1 359.9,929.8 360.9,928.1 361.6,911.5 362.6,894.8 363.6,878.2 364.6,863.2 365.6,851.5 366.6,853.2 367.6,866.5 368.5,876.5 369.5,883.2 370.5,884.8 371.5,869.9 372.2,853.2 372.9,843.2 373.5,853.2 374.2,863.2 375.2,876.5 376.2,889.8 376.9,878.2 377.9,853.2 378.5,847.4 379.5,863.2 380.5,878.2 381.2,863.2 381.9,844.9 382.9,856.5 383.9,863.2 384.9,849.9 385.5,835.7 386.2,844.9 387.2,856.5 388.2,852.4 389.2,856.5 390.2,869.9 391.2,881.5 392.2,869.9 393.2,861.5 394.2,859.0 395.2,866.5 396.2,873.2 397.2,879.8 398.2,894.8 399.2,919.8 400.2,940.6 400.7,911.5 401.7,919.8 402.7,924.8 403.3,911.5 404.0,894.8 404.7,883.2 405.7,873.2 406.3,865.7 407.0,869.9 407.7,879.8 408.3,889.8 409.0,886.5 409.7,883.2 410.3,893.1 411.3,904.8 412.3,896.5 413.3,886.5 414.0,883.2 414.6,903.1 415.3,928.1 416.3,946.6 417.3,954.9 418.3,951.6 419.3,954.9 420.3,959.9 421.3,961.5 422.3,966.5 423.3,970.7 424.3,963.2 425.3,954.9 426.3,938.2 427.3,929.9 428.3,921.6 429.3,913.3 429.9,896.6 426.6,896.5 427.3,869.9 428.0,844.9 428.6,829.9 429.6,827.4 430.3,827.4 431.0,853.2 431.6,886.5 432.3,911.5 432.6,923.3 433.6,924.1 434.3,946.6 434.6,971.5 434.9,988.2 435.6,986.5 436.3,963.2 436.9,929.9 437.6,896.6 437.6,883.2 438.3,869.9 438.9,858.2 439.6,855.7 440.3,863.2 440.9,873.2 441.6,869.9 442.6,868.2 443.6,871.5 444.6,869.9 445.6,863.2 446.6,859.9 447.6,863.2 448.6,859.9 449.6,849.9 450.3,845.7 450.9,853.2 451.9,869.9 452.6,878.2 453.3,869.9 454.3,868.2 455.3,869.9 456.2,866.5 457.2,856.5 458.2,843.2 458.9,839.9 459.6,848.2 460.2,863.2 461.2,869.9 462.2,864.9 463.2,871.5 464.2,878.2 465.2,868.2 466.2,863.2 467.2,869.9 467.9,863.2 468.6,856.5 469.2,866.5 469.9,879.8 470.9,873.2 471.9,853.2 472.6,851.5 473.2,859.9 474.2,869.9 475.2,864.9 476.2,863.2 477.2,866.5 478.2,876.5 478.9,881.5 479.9,873.2 480.9,863.2 481.9,856.5 482.9,849.9 483.9,841.6 484.5,839.9 484.9,863.2 485.5,892.3 486.2,886.5 486.9,869.9 487.9,859.9 488.9,856.5 489.9,863.2 490.9,876.5 491.9,883.2 492.5,869.9 493.5,849.9 494.5,839.9 495.2,838.2 495.9,846.6 496.9,849.9 497.5,841.6 498.2,848.2 499.2,853.2 499.9,846.6 500.8,837.4 501.5,844.9 502.5,858.2 503.5,853.2 504.5,851.5 505.5,856.5 506.5,853.2 507.5,850.7 508.5,853.2 509.5,858.2 510.0,869.9 511.0,876.5 512.0,869.9 513.0,863.2 514.0,866.5 515.0,859.9 516.0,853.2 517.0,851.5 517.7,846.6 518.3,845.7 519.0,856.5 519.7,873.2 520.3,882.3 521.3,876.5 522.3,869.9 523.3,863.2 524.3,853.2 525.3,843.2 526.3,837.4 527.0,848.2 528.0,863.2 529.0,869.9 529.6,861.5 530.6,856.5 531.6,863.2 532.6,869.9 533.6,876.5 534.3,879.0 535.0,863.2 535.6,846.6 536.3,839.9 537.0,849.9 538.0,859.9 539.0,853.2 540.0,844.9 540.6,839.9 541.6,848.2 542.6,856.5 543.6,853.2 544.6,846.6 545.6,843.2 546.6,841.6 547.6,849.9 548.6,859.9 549.6,862.4 550.6,856.5 551.6,853.2 552.6,859.9 553.6,860.7 554.6,856.5 555.6,851.5 556.6,849.9 557.6,843.2 558.6,833.2 559.6,823.3 560.3,822.9 560.9,836.6 561.9,849.9 562.9,843.2 563.9,846.6 564.9,856.5 565.9,866.5 566.9,863.2 567.9,853.2 568.9,836.6 569.6,826.6 570.2,836.6 570.9,856.5 571.6,866.5 572.6,859.9 573.6,849.9 574.6,853.2 575.6,843.2 576.6,831.6 577.2,828.2 577.9,839.9 578.6,853.2 579.6,846.6 580.6,844.9 581.6,863.2 582.2,869.0 582.9,856.5 583.9,843.2 584.9,839.9 585.9,849.9 586.9,856.5 587.9,846.6 588.9,836.6 589.9,826.6 590.9,819.9 591.5,818.3 592.2,814.9 592.9,812.4 593.5,819.9 594.2,826.6 595.2,829.9 596.2,836.6 596.9,839.9 597.5,833.2 598.2,828.2 599.2,833.2 599.9,841.6 600.5,829.9 601.2,821.6 601.9,824.9 602.5,819.9 603.2,811.6 603.5,810.8 603.9,836.6 604.2,869.9 604.9,899.0 605.9,896.5 606.5,886.5 607.5,878.2 608.5,863.2 609.5,849.9 610.5,846.6 611.5,853.2 612.5,863.2 613.5,856.5 614.5,853.2 615.0,861.5 615.6,871.7 616.2,882.0 616.8,890.1 617.5,892.2 617.9,882.0 618.3,866.6 618.9,855.4 619.5,861.5 620.1,871.7 620.7,877.9 621.5,884.0 622.2,876.9 622.8,867.7 623.4,861.5 624.0,863.6 624.6,869.7 625.2,873.8 625.8,867.7 626.4,861.5 627.3,856.4 628.1,857.4 628.7,863.6 629.3,867.7 629.9,861.5 630.3,851.3 630.7,843.1 631.3,842.6 632.0,847.2 632.6,855.4 633.2,867.7 633.8,879.9 634.6,886.1 635.4,888.1 636.1,882.0 636.7,869.7 637.3,855.4 637.9,845.2 638.5,847.2 639.1,853.4 639.7,851.3 640.3,843.1 641.0,847.2 641.4,839.0 642.0,836.0 642.6,835.0 643.2,828.8 644.0,827.8 644.8,828.8 645.5,833.9 646.1,839.0 646.7,838.0 647.3,835.0 647.9,832.9 648.5,826.8 649.1,823.2 649.7,823.7 650.2,832.9 650.6,846.2 651.0,861.5 651.6,871.7 652.4,876.9 653.2,875.8 654.0,871.7 654.9,874.8 655.7,877.9 656.3,871.7 656.7,882.0 657.3,888.1 657.9,892.2 658.5,888.1 658.9,879.9 659.3,867.7 659.8,856.4 660.4,861.5 661.0,865.6 661.6,869.7 662.2,873.8 663.0,877.9 663.8,871.7 664.5,865.6 665.1,860.5 665.7,855.4 666.5,851.3 667.3,853.4 668.1,855.4 669.0,851.3 669.8,848.2 670.6,851.3 671.4,856.4 672.2,851.3 673.0,845.2 673.9,844.2 674.7,845.7 675.5,845.2 676.3,847.2 676.9,849.3 677.5,843.1 678.4,838.0 679.2,837.5 679.8,843.1 680.4,847.2 681.0,851.3 681.6,857.4 682.2,865.6 682.9,871.7 683.5,874.8" fill="none" stroke="#f80000" stroke-width="2.2" stroke-linejoin="round" stroke-linecap="butt" />
<polyline points="78.0,874.8 79.0,889.8 80.0,908.1 81.0,926.4 81.7,937.2 82.0,919.8 82.3,894.8 82.7,869.9 83.3,849.9 84.7,847.4 86.0,846.6 87.3,844.9 88.6,843.2 90.0,840.7 90.6,836.6 91.3,833.2 92.3,828.2 93.3,827.4 94.3,829.9 95.3,824.9 96.3,822.9 97.0,828.2 97.6,839.9 98.3,844.9 99.0,836.6 99.6,826.6 100.6,820.8 101.6,823.3 102.6,827.4 103.6,831.6 104.6,834.1 105.6,833.2 106.6,829.9 107.6,824.9 108.6,819.9 109.6,818.3 110.6,823.3 111.3,819.9 111.9,814.9 112.9,807.4 113.9,806.6 114.6,813.3 115.6,819.9 116.6,823.3 117.6,818.3 118.6,812.4 119.6,814.9 120.6,821.6 121.6,823.3 122.6,818.3 123.6,811.6 124.6,809.9 125.6,813.3 126.6,815.8 127.9,814.6 129.3,813.6 130.6,814.6 131.9,812.9 132.9,809.9 133.9,803.3 134.9,799.1 135.9,798.3 136.9,796.6 137.9,791.6 138.9,790.8 139.6,798.3 140.2,811.6 140.9,823.3 141.9,826.6 142.9,821.6 143.9,813.3 144.9,805.8 145.9,802.5 146.9,804.1 147.9,807.4 148.9,810.8 149.9,808.3 150.9,803.3 151.9,800.0 152.9,797.5 153.9,795.8 154.9,795.0 155.9,797.5 156.9,803.3 157.5,811.6 158.5,818.3 159.5,821.6 160.5,822.9 161.5,819.9 162.5,824.1 163.5,821.6 164.5,818.3 165.5,814.9 166.5,811.6 167.5,807.4 168.5,809.9 169.5,814.1 170.5,813.3 171.5,809.9 172.5,807.4 173.5,809.1 174.5,806.6 175.5,803.3 176.5,801.6 177.5,804.9 178.5,809.1 179.5,809.9 180.5,806.6 181.5,803.3 182.5,800.8 183.5,800.0 184.5,799.1 185.5,796.6 186.5,790.0 187.5,788.3 188.5,790.8 189.5,792.5 190.0,790.0 191.3,790.8 192.3,792.5 193.0,803.3 193.7,828.2 194.3,844.9 195.0,851.5 195.7,839.9 196.3,819.9 197.0,800.0 197.7,808.3 198.3,824.9 199.3,826.6 200.0,821.6 200.7,819.9 201.3,826.6 202.0,836.6 202.6,839.9 203.3,834.9 204.3,839.9 205.3,843.2 206.3,839.9 207.3,833.2 208.3,826.6 209.3,823.3 210.3,819.9 211.3,816.6 212.3,817.4 213.3,814.9 214.3,809.9 215.3,809.1 216.3,813.3 217.3,819.9 218.3,823.3 219.3,819.9 220.3,814.9 221.3,810.8 222.3,809.9 223.3,814.9 224.3,821.6 225.3,824.9 226.3,827.4 227.3,833.2 228.3,836.6 229.3,834.9 230.3,829.9 231.3,826.6 232.3,828.2 233.3,829.9 234.3,826.6 235.3,825.7 236.3,823.3 237.3,824.1 238.3,828.2 239.3,829.9 240.3,833.2 241.3,831.6 242.3,826.6 243.3,823.3 244.3,827.4 245.3,833.2 246.2,843.2 247.2,851.5 248.2,848.2 249.2,843.2 250.2,839.9 251.2,846.6 252.2,853.2 253.2,856.5 254.2,849.9 255.2,841.6 256.2,836.6 257.2,843.2 258.2,848.2 259.2,841.6 260.2,831.6 261.2,828.2 262.2,829.9 263.2,834.1 264.2,834.9 265.2,833.2 266.2,829.9 267.2,827.4 268.2,829.1 269.2,831.6 270.2,828.2 271.2,826.6 272.2,833.2 273.2,838.2 274.2,833.2 275.2,823.3 276.2,818.3 277.2,816.6 278.2,814.9 279.2,813.3 280.2,811.6 281.2,810.8 282.2,809.9 283.2,811.6 284.2,814.1 285.2,816.6 286.2,818.3 287.2,817.4 288.2,815.8 289.2,817.4 290.2,819.9 290.0,818.3 291.0,819.9 292.0,823.3 293.0,819.9 294.0,821.6 295.0,826.6 296.0,824.9 297.0,828.2 298.0,829.1 299.0,828.2 300.0,829.9 301.0,826.6 302.0,819.9 303.0,816.6 304.0,809.9 305.0,803.3 305.6,811.6 306.3,824.9 307.3,836.6 308.3,844.9 309.3,849.9 310.3,851.5 311.3,849.9 312.3,841.6 313.3,828.2 314.3,814.9 315.0,824.9 315.6,844.9 316.3,856.5 317.0,851.5 317.6,846.6 318.3,853.2 319.0,873.2 319.6,896.6 320.3,913.3 320.8,927.4 321.3,913.3 321.6,905.0 322.3,921.6 323.0,940.7 323.9,933.3 324.9,924.1 325.6,934.9 326.3,949.9 326.9,963.2 327.6,972.4 328.6,974.9 329.6,979.9 330.6,969.9 331.6,966.5 332.3,973.2 332.9,979.9 333.6,963.2 334.3,946.6 334.9,929.9 335.6,919.9 336.6,908.3 337.3,905.0 337.9,911.6 338.6,918.3 339.6,917.4 340.6,921.6 341.3,934.9 341.9,951.6 342.6,966.5 343.3,975.2 344.3,973.2 345.3,969.9 345.9,946.6 346.6,921.6 347.2,896.6 346.2,869.9 346.6,847.9 347.2,856.5 348.2,861.5 349.2,863.2 350.2,869.9 351.2,876.5 352.2,893.1 353.2,894.0 353.9,886.5 354.6,878.2 355.2,886.5 355.9,906.5 356.6,928.9 357.2,919.8 357.9,903.1 358.6,886.5 359.6,869.9 360.6,859.9 361.6,853.2 362.6,856.5 363.6,869.9 364.6,879.8 365.6,880.7 366.6,873.2 367.6,863.2 368.5,853.2 369.5,851.5 370.5,859.9 371.5,871.5 372.5,863.2 373.5,856.5 374.5,861.5 375.5,869.9 376.5,863.2 377.5,858.2 378.5,860.7 379.5,853.2 380.5,848.2 381.5,845.7 382.5,853.2 383.5,858.2 384.5,859.9 385.5,868.2 386.5,874.0 387.5,869.9 388.5,864.9 389.5,862.4 390.5,866.5 391.5,873.2 392.5,874.8 393.5,886.5 394.5,911.5 395.5,936.4 396.5,919.8 397.5,913.1 398.5,919.8 399.5,914.8 400.0,886.5 401.0,878.2 402.0,874.8 403.0,886.5 404.0,889.8 405.0,893.1 406.0,896.5 407.0,898.1 408.0,894.8 409.0,903.1 409.7,919.8 410.0,938.2 410.6,959.9 411.3,968.2 412.3,963.2 413.3,956.6 414.3,952.4 415.3,951.6 416.3,959.9 417.3,967.4 418.3,963.2 419.0,954.9 419.6,938.2 420.3,921.6 421.0,905.0 421.6,888.3 421.0,886.5 421.6,853.2 422.3,833.2 423.0,827.9 423.6,836.6 424.0,869.9 424.6,903.1 424.6,905.0 425.3,921.6 425.9,928.3 426.9,926.6 427.6,938.2 428.3,951.6 428.9,962.4 429.6,962.4 429.9,946.6 430.6,913.3 431.1,890.0 431.3,878.2 432.0,868.2 432.6,865.7 433.6,868.2 434.6,865.7 435.6,866.2 436.6,866.5 437.6,864.9 438.6,863.2 439.6,859.9 440.6,861.5 441.6,859.9 442.6,856.5 443.3,854.0 444.3,859.9 445.3,866.5 446.3,868.2 447.3,867.4 448.3,869.0 449.3,866.5 450.3,856.5 451.3,849.0 451.9,848.2 452.9,854.9 453.9,864.9 454.9,868.2 455.9,869.9 456.9,870.7 457.9,871.5 458.9,869.9 459.9,863.2 460.9,859.9 461.6,861.5 462.2,869.9 462.9,878.2 463.9,879.0 464.9,869.9 465.9,863.2 466.9,868.2 467.9,864.9 468.9,858.2 469.9,859.9 470.9,863.2 471.9,865.7 472.9,863.2 473.9,859.9 474.9,860.7 475.9,856.5 476.9,853.2 477.6,859.9 478.2,873.2 479.2,879.8 480.2,869.9 481.2,859.9 482.2,856.5 482.9,863.2 483.5,873.2 484.5,881.5 485.5,869.9 486.5,856.5 487.5,849.9 488.5,848.2 489.5,846.6 490.5,845.7 491.5,849.9 492.5,856.5 493.5,859.9 494.2,853.2 494.9,849.9 495.9,854.9 496.9,858.2 497.9,863.2 498.9,856.5 499.9,853.2 500.8,859.9 501.8,863.2 502.8,868.2 503.8,873.2 504.8,876.5 505.8,873.2 506.8,866.5 507.8,861.5 508.8,859.0 509.8,860.7 510.0,859.9 511.0,863.2 512.0,873.2 513.0,879.8 514.0,876.5 515.0,869.9 516.0,863.2 517.0,859.9 518.0,853.2 519.0,849.9 519.7,856.5 520.3,868.2 521.0,863.2 521.6,853.2 522.6,859.9 523.6,866.5 524.6,869.9 525.6,874.8 526.6,863.2 527.6,849.9 528.6,853.2 529.6,854.9 530.6,849.9 531.6,847.4 532.6,846.6 533.6,848.2 534.6,853.2 535.6,858.2 536.6,853.2 537.6,848.2 538.6,847.4 539.6,849.9 540.6,856.5 541.6,859.9 542.6,860.7 543.6,859.9 544.9,858.2 546.3,857.4 547.6,856.5 548.6,854.9 549.6,853.2 550.6,849.9 551.6,841.6 552.6,836.6 553.3,837.4 553.9,846.6 554.6,853.2 555.6,854.9 556.6,856.5 557.6,859.9 558.6,860.7 559.3,853.2 560.3,846.6 561.3,843.2 562.3,844.9 563.3,849.9 564.3,853.2 565.3,854.9 566.2,851.5 567.2,848.2 568.2,839.9 569.2,834.1 569.9,833.2 570.6,841.6 571.6,848.2 572.6,849.9 573.6,843.2 574.6,839.9 575.6,836.6 576.2,841.6 576.9,849.9 577.9,853.2 578.9,848.2 579.9,843.2 580.9,836.6 581.9,829.9 582.9,826.6 583.9,828.2 584.6,824.9 585.2,824.1 585.9,833.2 586.6,836.6 587.6,829.9 588.5,828.2 589.5,833.2 590.5,836.6 591.2,829.9 592.2,824.9 593.2,823.3 594.2,822.4 594.9,824.9 595.5,833.2 596.2,853.2 596.5,878.2 597.2,896.5 597.9,898.1 598.5,889.8 599.5,878.2 600.5,861.5 601.5,849.9 602.5,849.0 603.5,853.2 604.5,854.9 605.5,856.5 606.5,863.2 607.5,869.9 608.5,876.5 609.5,869.9 610.5,863.2 611.2,859.9 612.2,869.9 613.2,876.5 613.8,879.0 614.8,869.9 615.0,863.6 616.0,863.1 617.0,865.1 618.1,865.6 618.9,860.5 619.7,863.6 620.5,867.7 621.3,865.6 622.2,856.4 623.0,848.2 623.8,845.7 624.4,846.2 625.0,853.4 625.6,863.6 626.2,874.8 626.9,884.0 627.5,886.1 628.1,879.9 628.7,871.7 629.3,861.5 629.9,853.4 630.5,848.2 631.3,847.2 632.2,849.3 633.0,843.1 633.8,838.0 634.6,835.0 635.4,830.9 636.3,828.8 636.9,828.3 637.5,830.9 638.1,833.9 638.7,835.5 639.3,832.9 639.9,829.9 640.5,827.8 641.2,827.3 641.6,832.9 642.0,841.1 642.6,851.3 643.2,861.5 643.8,869.7 644.6,873.8 645.5,874.8 646.3,871.7 646.9,872.8 647.7,874.8 648.5,873.8 649.3,871.7 649.9,869.7 650.6,861.5 651.2,856.4 651.8,859.5 652.4,863.6 653.0,867.7 653.8,871.7 654.6,873.8 655.5,872.8 656.1,867.7 656.7,861.5 657.3,856.4 657.9,854.4 658.7,853.9 659.6,851.3 660.4,849.3 661.2,848.2 662.0,850.3 662.8,852.3 663.6,854.4 664.3,851.3 665.1,848.2 665.9,847.2 666.7,849.3 667.5,851.3 668.1,852.3 668.8,849.3 669.4,844.2 670.2,842.6 671.0,843.1 671.6,847.2 672.2,851.3 673.0,856.4 673.9,861.5 674.7,865.6 675.3,861.5 676.1,857.4 676.9,856.4 677.7,858.5 678.4,861.5 678.8,871.7 678.9,880.0 679.5,891.9 680.5,919.4 681.4,951.7 682.1,974.4 682.6,975.6 683.3,968.4" fill="none" stroke="#000" stroke-width="2.2" stroke-linejoin="round" stroke-linecap="butt" />
<polyline points="78.4,832.7 305,832.7 306.6,867.5 683,867.5" fill="none" stroke="#0000f0" stroke-width="2" stroke-linejoin="round"/>
<rect x="589.5" y="745.7" width="93.2" height="64.8" fill="#fff" stroke="#666" stroke-width="1"/>
<polyline points="589.5,800 589.5,745.8 683,745.8" fill="none" stroke="#3a3a3a" stroke-width="1.3"/>
<line x1="591.60" y1="757.50" x2="611.40" y2="757.50" stroke="#f00000" stroke-width="1.6"/>
<line x1="591.60" y1="778.30" x2="611.40" y2="778.30" stroke="#000" stroke-width="1.8"/>
<line x1="591.60" y1="799.00" x2="611.40" y2="799.00" stroke="#0000f0" stroke-width="1.6"/>
<text x="613.9" y="763.6" font-size="18.5" text-anchor="start" fill="#222" textLength="66.0" lengthAdjust="spacingAndGlyphs" >Predicted</text>
<text x="613.9" y="784.7" font-size="18.5" text-anchor="start" fill="#222" textLength="54.3" lengthAdjust="spacingAndGlyphs" >Sensors</text>
<text x="613.9" y="805.1" font-size="18.5" text-anchor="start" fill="#222" textLength="44.9" lengthAdjust="spacingAndGlyphs" >Target</text>
<text x="72.5" y="1013.8" font-size="19.5" text-anchor="end" fill="#222" textLength="10.0" lengthAdjust="spacingAndGlyphs" >0</text>
<text x="72.5" y="970.3" font-size="19.5" text-anchor="end" fill="#222" textLength="25.0" lengthAdjust="spacingAndGlyphs" >0.5</text>
<text x="72.5" y="926.8" font-size="19.5" text-anchor="end" fill="#222" textLength="10.0" lengthAdjust="spacingAndGlyphs" >1</text>
<text x="72.5" y="883.4" font-size="19.5" text-anchor="end" fill="#222" textLength="25.0" lengthAdjust="spacingAndGlyphs" >1.5</text>
<text x="72.5" y="839.9" font-size="19.5" text-anchor="end" fill="#222" textLength="10.0" lengthAdjust="spacingAndGlyphs" >2</text>
<text x="72.5" y="796.4" font-size="19.5" text-anchor="end" fill="#222" textLength="25.0" lengthAdjust="spacingAndGlyphs" >2.5</text>
<text x="72.5" y="752.9" font-size="19.5" text-anchor="end" fill="#222" textLength="10.0" lengthAdjust="spacingAndGlyphs" >3</text>
<text transform="translate(40.5,876.7) rotate(-90)" font-size="21.5" text-anchor="middle" fill="#222" textLength="100.6" lengthAdjust="spacingAndGlyphs">speed [m/s]</text>
<text x="78.4" y="1030.9" font-size="19.5" text-anchor="middle" fill="#222" textLength="10.0" lengthAdjust="spacingAndGlyphs" >0</text>
<text x="172.9" y="1030.9" font-size="19.5" text-anchor="middle" fill="#222" textLength="25.0" lengthAdjust="spacingAndGlyphs" >0.5</text>
<text x="267.4" y="1030.9" font-size="19.5" text-anchor="middle" fill="#222" textLength="10.0" lengthAdjust="spacingAndGlyphs" >1</text>
<text x="361.9" y="1030.9" font-size="19.5" text-anchor="middle" fill="#222" textLength="25.0" lengthAdjust="spacingAndGlyphs" >1.5</text>
<text x="456.4" y="1030.9" font-size="19.5" text-anchor="middle" fill="#222" textLength="10.0" lengthAdjust="spacingAndGlyphs" >2</text>
<text x="550.9" y="1030.9" font-size="19.5" text-anchor="middle" fill="#222" textLength="25.0" lengthAdjust="spacingAndGlyphs" >2.5</text>
<text x="645.4" y="1030.9" font-size="19.5" text-anchor="middle" fill="#222" textLength="10.0" lengthAdjust="spacingAndGlyphs" >3</text>
<text x="381.2" y="1056.2" font-size="21.5" text-anchor="middle" fill="#222" textLength="144.5" lengthAdjust="spacingAndGlyphs" >Mission time [h]</text>
<text x="394.2" y="1084.3" font-size="24" text-anchor="middle" fill="#222" >(c)</text>
<text x="104.1" y="1031.8" font-size="13.5" text-anchor="middle" fill="#2020f4" stroke="#2020f4" stroke-width="0.15">A</text>
<line x1="104.40" y1="1018.60" x2="104.40" y2="1012.90" stroke="#000" stroke-width="2.1"/>
<polygon points="104.4,1008.4 107.4,1013.4 101.4,1013.4" fill="#000"/>
<text x="292.0" y="1031.8" font-size="13.5" text-anchor="middle" fill="#2020f4" stroke="#2020f4" stroke-width="0.15">B</text>
<line x1="291.60" y1="1018.40" x2="291.60" y2="1012.90" stroke="#000" stroke-width="2.1"/>
<polygon points="291.6,1008.4 294.6,1013.4 288.6,1013.4" fill="#000"/>
<text x="382.5" y="1031.4" font-size="13.5" text-anchor="middle" fill="#2020f4" stroke="#2020f4" stroke-width="0.15">C</text>
<line x1="378.10" y1="1017.50" x2="372.66" y2="1011.29" stroke="#000" stroke-width="2.1"/>
<polygon points="369.7,1007.9 375.3,1009.7 370.7,1013.6" fill="#000"/>
<text x="531.4" y="1030.0" font-size="13.5" text-anchor="middle" fill="#2020f4" stroke="#2020f4" stroke-width="0.15">D</text>
<line x1="537.30" y1="1016.50" x2="539.33" y2="1012.59" stroke="#000" stroke-width="2.1"/>
<polygon points="541.4,1008.6 541.8,1014.4 536.4,1011.7" fill="#000"/>
<text x="680.8" y="1032.3" font-size="13.5" text-anchor="middle" fill="#2020f4" stroke="#2020f4" stroke-width="0.15">E</text>
<line x1="680.30" y1="1019.30" x2="680.30" y2="1012.90" stroke="#000" stroke-width="2.1"/>
<polygon points="680.3,1008.4 683.3,1013.4 677.3,1013.4" fill="#000"/>
<text x="365.6" y="761.8" font-size="19.5" text-anchor="start" fill="#222" textLength="155.5" lengthAdjust="spacingAndGlyphs" >New mission speed</text>
<text x="364.8" y="785.6" font-size="19.5" text-anchor="start" fill="#222" textLength="133.5" lengthAdjust="spacingAndGlyphs" >(2m/s to 1.6m/s)</text>
<line x1="365.70" y1="789.10" x2="308.30" y2="826.60" stroke="#000" stroke-width="2.6"/>
<text x="130.0" y="935.5" font-size="19.5" text-anchor="start" fill="#222" textLength="101.5" lengthAdjust="spacingAndGlyphs" ><tspan font-style="italic">μ</tspan> = 2.09 m/s</text>
<text x="130.0" y="957.8" font-size="19.5" text-anchor="start" fill="#222" textLength="101.5" lengthAdjust="spacingAndGlyphs" ><tspan font-style="italic">σ</tspan> = 0.23 m/s</text>
<text x="481.3" y="935.5" font-size="19.5" text-anchor="start" fill="#222" textLength="101.5" lengthAdjust="spacingAndGlyphs" ><tspan font-style="italic">μ</tspan> = 1.63 m/s</text>
<text x="481.3" y="957.8" font-size="19.5" text-anchor="start" fill="#222" textLength="101.5" lengthAdjust="spacingAndGlyphs" ><tspan font-style="italic">σ</tspan> = 0.38 m/s</text>
</g>
</svg></body></html>
